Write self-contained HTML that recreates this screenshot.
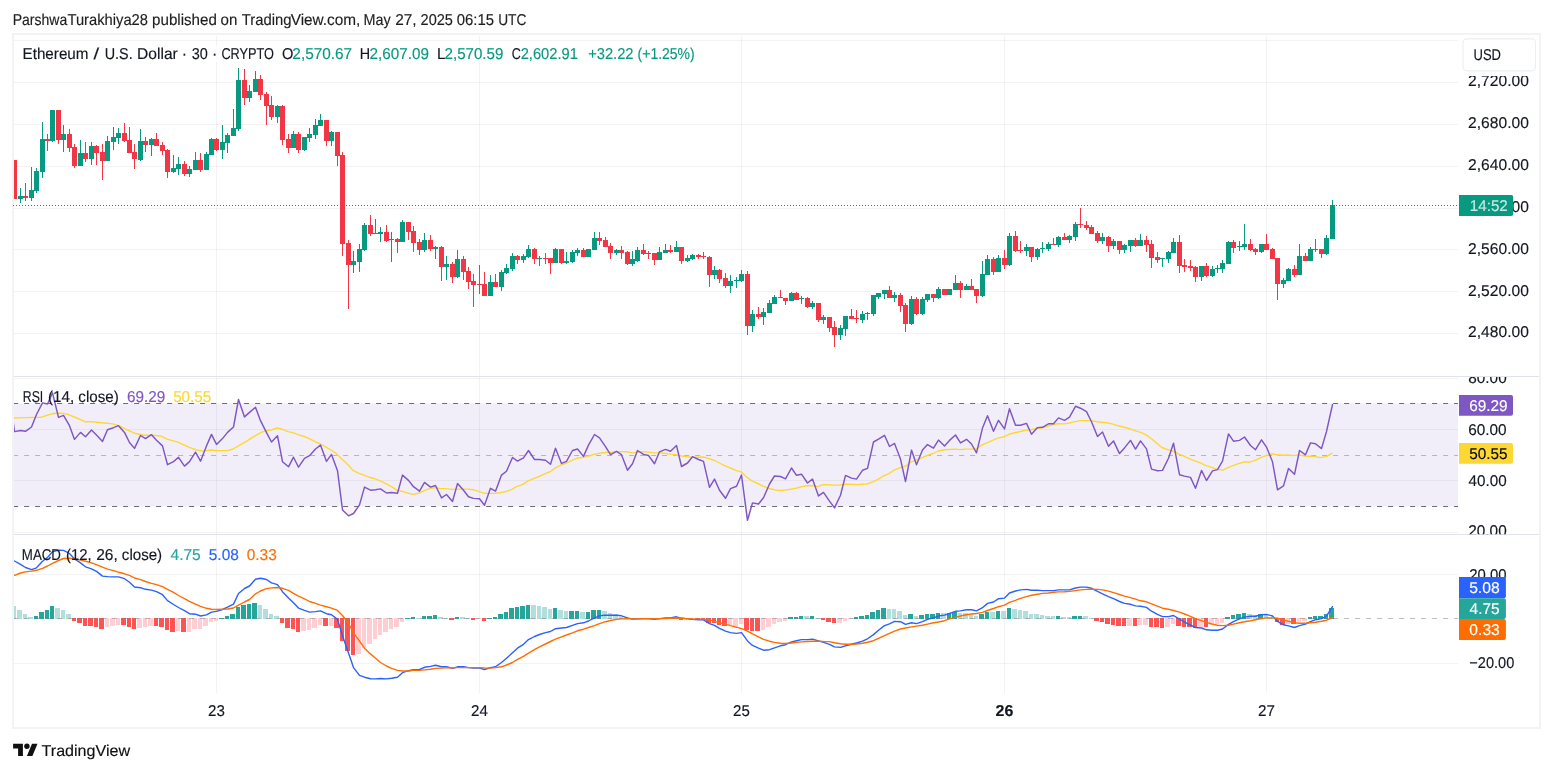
<!DOCTYPE html><html><head><meta charset="utf-8"><title>ETHUSD</title>
<style>html,body{margin:0;padding:0;background:#fff}svg{display:block;will-change:transform}text{font-family:"Liberation Sans",sans-serif;text-rendering:geometricPrecision}</style></head><body>
<svg width="1553" height="772" viewBox="0 0 1553 772">
<rect width="1553" height="772" fill="#fff"/>
<text x="12.68" y="24.95" font-size="15.8" fill="#1e1e1e" stroke="#1e1e1e" stroke-width="0.15" textLength="54.62" lengthAdjust="spacingAndGlyphs">Parshwa</text>
<text x="67.47" y="24.95" font-size="15.8" fill="#1e1e1e" stroke="#1e1e1e" stroke-width="0.15" textLength="80.52" lengthAdjust="spacingAndGlyphs">Turakhiya28</text>
<text x="152.04" y="24.95" font-size="15.8" fill="#1e1e1e" stroke="#1e1e1e" stroke-width="0.15" textLength="64.88" lengthAdjust="spacingAndGlyphs">published</text>
<text x="220.52" y="24.95" font-size="15.8" fill="#1e1e1e" stroke="#1e1e1e" stroke-width="0.15" textLength="16.80" lengthAdjust="spacingAndGlyphs">on</text>
<text x="241.77" y="24.95" font-size="15.8" fill="#1e1e1e" stroke="#1e1e1e" stroke-width="0.15" textLength="49.76" lengthAdjust="spacingAndGlyphs">Trading</text>
<text x="290.69" y="24.95" font-size="15.8" fill="#1e1e1e" stroke="#1e1e1e" stroke-width="0.15" textLength="69.66" lengthAdjust="spacingAndGlyphs">View.com,</text>
<text x="363.54" y="24.95" font-size="15.8" fill="#1e1e1e" stroke="#1e1e1e" stroke-width="0.15" textLength="27.21" lengthAdjust="spacingAndGlyphs">May</text>
<text x="395.23" y="24.95" font-size="15.8" fill="#1e1e1e" stroke="#1e1e1e" stroke-width="0.15" textLength="21.34" lengthAdjust="spacingAndGlyphs">27,</text>
<text x="420.57" y="24.95" font-size="15.8" fill="#1e1e1e" stroke="#1e1e1e" stroke-width="0.15" textLength="32.29" lengthAdjust="spacingAndGlyphs">2025</text>
<text x="456.69" y="24.95" font-size="15.8" fill="#1e1e1e" stroke="#1e1e1e" stroke-width="0.15" textLength="37.29" lengthAdjust="spacingAndGlyphs">06:15</text>
<text x="498.17" y="24.95" font-size="15.8" fill="#1e1e1e" stroke="#1e1e1e" stroke-width="0.15" textLength="28.22" lengthAdjust="spacingAndGlyphs">UTC</text>
<rect x="13" y="34" width="1527" height="694" fill="none" stroke="#f3f3f4" stroke-width="2" shape-rendering="crispEdges"/>
<g stroke="#20302a" stroke-opacity="0.06" stroke-width="1" shape-rendering="crispEdges">
<line x1="14" x2="1458" y1="40.5" y2="40.5"/>
<line x1="14" x2="1458" y1="82.5" y2="82.5"/>
<line x1="14" x2="1458" y1="124.5" y2="124.5"/>
<line x1="14" x2="1458" y1="166.5" y2="166.5"/>
<line x1="14" x2="1458" y1="208.5" y2="208.5"/>
<line x1="14" x2="1458" y1="249.5" y2="249.5"/>
<line x1="14" x2="1458" y1="291.5" y2="291.5"/>
<line x1="14" x2="1458" y1="333.5" y2="333.5"/>
<line x1="216.5" x2="216.5" y1="35.5" y2="692.5"/>
<line x1="479.4" x2="479.4" y1="35.5" y2="692.5"/>
<line x1="741.5" x2="741.5" y1="35.5" y2="692.5"/>
<line x1="1004.5" x2="1004.5" y1="35.5" y2="692.5"/>
<line x1="1266.4" x2="1266.4" y1="35.5" y2="692.5"/>
<line x1="14" x2="1458" y1="378.5" y2="378.5"/>
<line x1="14" x2="1458" y1="429.5" y2="429.5"/>
<line x1="14" x2="1458" y1="480.5" y2="480.5"/>
<line x1="14" x2="1458" y1="532.5" y2="532.5"/>
<line x1="14" x2="1458" y1="574.5" y2="574.5"/>
<line x1="14" x2="1458" y1="663.5" y2="663.5"/>
</g>
<g stroke="#e0e3eb" stroke-width="1" shape-rendering="crispEdges">
<line x1="14" x2="1539" y1="376.5" y2="376.5"/><line x1="14" x2="1539" y1="534.2" y2="534.2"/></g>
<rect x="14" y="403.4" width="1444" height="103" fill="#7e57c2" fill-opacity="0.1"/>
<g stroke-width="1" stroke-dasharray="5 6" stroke-dashoffset="0.9" fill="none">
<line x1="14" x2="1458" y1="403.5" y2="403.5" stroke="#6a6d78"/>
<line x1="14" x2="1458" y1="506.5" y2="506.5" stroke="#6a6d78"/>
<line x1="14" x2="1458" y1="455.5" y2="455.5" stroke="#787b86" stroke-opacity="0.5"/>
</g>
<line x1="13" x2="1458" y1="205.5" y2="205.5" stroke="#089981" stroke-width="1" stroke-dasharray="1 2" shape-rendering="crispEdges"/>
<defs><clipPath id="cp"><rect x="14" y="35" width="1444" height="693"/></clipPath></defs>
<g clip-path="url(#cp)">
<g shape-rendering="crispEdges">
<rect x="14" y="160" width="1" height="39" fill="#f23645"/>
<rect x="12" y="160" width="5" height="39" fill="#f23645"/>
<rect x="20" y="188" width="1" height="15" fill="#089981"/>
<rect x="18" y="196" width="5" height="3" fill="#089981"/>
<rect x="25" y="183" width="1" height="18" fill="#f23645"/>
<rect x="23" y="196" width="5" height="2" fill="#f23645"/>
<rect x="31" y="167" width="1" height="34" fill="#089981"/>
<rect x="29" y="190" width="5" height="8" fill="#089981"/>
<rect x="36" y="168" width="1" height="25" fill="#089981"/>
<rect x="34" y="171" width="5" height="20" fill="#089981"/>
<rect x="42" y="122" width="1" height="56" fill="#089981"/>
<rect x="40" y="139" width="5" height="33" fill="#089981"/>
<rect x="47" y="134" width="1" height="17" fill="#f23645"/>
<rect x="45" y="139" width="5" height="2" fill="#f23645"/>
<rect x="52" y="110" width="1" height="32" fill="#089981"/>
<rect x="50" y="110" width="5" height="31" fill="#089981"/>
<rect x="58" y="110" width="1" height="34" fill="#f23645"/>
<rect x="56" y="110" width="5" height="30" fill="#f23645"/>
<rect x="63" y="125" width="1" height="27" fill="#089981"/>
<rect x="61" y="134" width="5" height="6" fill="#089981"/>
<rect x="69" y="129" width="1" height="23" fill="#f23645"/>
<rect x="67" y="134" width="5" height="14" fill="#f23645"/>
<rect x="74" y="144" width="1" height="24" fill="#f23645"/>
<rect x="72" y="147" width="5" height="19" fill="#f23645"/>
<rect x="80" y="140" width="1" height="26" fill="#089981"/>
<rect x="78" y="153" width="5" height="13" fill="#089981"/>
<rect x="85" y="142" width="1" height="20" fill="#f23645"/>
<rect x="83" y="153" width="5" height="6" fill="#f23645"/>
<rect x="91" y="142" width="1" height="23" fill="#089981"/>
<rect x="89" y="146" width="5" height="13" fill="#089981"/>
<rect x="96" y="145" width="1" height="20" fill="#f23645"/>
<rect x="94" y="146" width="5" height="7" fill="#f23645"/>
<rect x="102" y="144" width="1" height="36" fill="#f23645"/>
<rect x="100" y="152" width="5" height="9" fill="#f23645"/>
<rect x="107" y="136" width="1" height="25" fill="#089981"/>
<rect x="105" y="141" width="5" height="20" fill="#089981"/>
<rect x="113" y="127" width="1" height="23" fill="#089981"/>
<rect x="111" y="137" width="5" height="5" fill="#089981"/>
<rect x="118" y="128" width="1" height="16" fill="#089981"/>
<rect x="116" y="133" width="5" height="5" fill="#089981"/>
<rect x="124" y="123" width="1" height="19" fill="#f23645"/>
<rect x="122" y="133" width="5" height="8" fill="#f23645"/>
<rect x="129" y="127" width="1" height="26" fill="#f23645"/>
<rect x="127" y="140" width="5" height="13" fill="#f23645"/>
<rect x="134" y="144" width="1" height="25" fill="#f23645"/>
<rect x="132" y="152" width="5" height="7" fill="#f23645"/>
<rect x="140" y="129" width="1" height="32" fill="#089981"/>
<rect x="138" y="141" width="5" height="19" fill="#089981"/>
<rect x="145" y="137" width="1" height="15" fill="#f23645"/>
<rect x="143" y="141" width="5" height="4" fill="#f23645"/>
<rect x="151" y="138" width="1" height="18" fill="#089981"/>
<rect x="149" y="139" width="5" height="6" fill="#089981"/>
<rect x="156" y="133" width="1" height="13" fill="#f23645"/>
<rect x="154" y="139" width="5" height="7" fill="#f23645"/>
<rect x="162" y="142" width="1" height="13" fill="#f23645"/>
<rect x="160" y="145" width="5" height="6" fill="#f23645"/>
<rect x="167" y="149" width="1" height="29" fill="#f23645"/>
<rect x="165" y="150" width="5" height="22" fill="#f23645"/>
<rect x="173" y="155" width="1" height="18" fill="#089981"/>
<rect x="171" y="168" width="5" height="4" fill="#089981"/>
<rect x="178" y="157" width="1" height="18" fill="#089981"/>
<rect x="176" y="164" width="5" height="5" fill="#089981"/>
<rect x="184" y="161" width="1" height="15" fill="#f23645"/>
<rect x="182" y="164" width="5" height="10" fill="#f23645"/>
<rect x="189" y="166" width="1" height="11" fill="#089981"/>
<rect x="187" y="169" width="5" height="5" fill="#089981"/>
<rect x="195" y="152" width="1" height="18" fill="#089981"/>
<rect x="193" y="160" width="5" height="10" fill="#089981"/>
<rect x="200" y="153" width="1" height="19" fill="#f23645"/>
<rect x="198" y="160" width="5" height="10" fill="#f23645"/>
<rect x="206" y="152" width="1" height="18" fill="#089981"/>
<rect x="204" y="154" width="5" height="16" fill="#089981"/>
<rect x="211" y="138" width="1" height="17" fill="#089981"/>
<rect x="209" y="139" width="5" height="16" fill="#089981"/>
<rect x="216" y="138" width="1" height="13" fill="#f23645"/>
<rect x="214" y="139" width="5" height="11" fill="#f23645"/>
<rect x="222" y="125" width="1" height="34" fill="#089981"/>
<rect x="220" y="142" width="5" height="8" fill="#089981"/>
<rect x="227" y="133" width="1" height="20" fill="#089981"/>
<rect x="225" y="135" width="5" height="8" fill="#089981"/>
<rect x="233" y="109" width="1" height="27" fill="#089981"/>
<rect x="231" y="128" width="5" height="8" fill="#089981"/>
<rect x="238" y="68" width="1" height="63" fill="#089981"/>
<rect x="236" y="80" width="5" height="49" fill="#089981"/>
<rect x="244" y="69" width="1" height="36" fill="#f23645"/>
<rect x="242" y="80" width="5" height="18" fill="#f23645"/>
<rect x="249" y="85" width="1" height="17" fill="#089981"/>
<rect x="247" y="91" width="5" height="7" fill="#089981"/>
<rect x="255" y="71" width="1" height="21" fill="#089981"/>
<rect x="253" y="79" width="5" height="13" fill="#089981"/>
<rect x="260" y="75" width="1" height="25" fill="#f23645"/>
<rect x="258" y="79" width="5" height="16" fill="#f23645"/>
<rect x="266" y="92" width="1" height="33" fill="#f23645"/>
<rect x="264" y="94" width="5" height="12" fill="#f23645"/>
<rect x="271" y="96" width="1" height="24" fill="#f23645"/>
<rect x="269" y="105" width="5" height="12" fill="#f23645"/>
<rect x="277" y="105" width="1" height="18" fill="#089981"/>
<rect x="275" y="106" width="5" height="11" fill="#089981"/>
<rect x="282" y="105" width="1" height="40" fill="#f23645"/>
<rect x="280" y="106" width="5" height="34" fill="#f23645"/>
<rect x="288" y="134" width="1" height="19" fill="#f23645"/>
<rect x="286" y="139" width="5" height="9" fill="#f23645"/>
<rect x="293" y="131" width="1" height="17" fill="#089981"/>
<rect x="291" y="134" width="5" height="14" fill="#089981"/>
<rect x="298" y="132" width="1" height="21" fill="#f23645"/>
<rect x="296" y="134" width="5" height="16" fill="#f23645"/>
<rect x="304" y="137" width="1" height="14" fill="#089981"/>
<rect x="302" y="137" width="5" height="13" fill="#089981"/>
<rect x="309" y="128" width="1" height="14" fill="#089981"/>
<rect x="307" y="134" width="5" height="4" fill="#089981"/>
<rect x="315" y="119" width="1" height="20" fill="#089981"/>
<rect x="313" y="125" width="5" height="10" fill="#089981"/>
<rect x="320" y="114" width="1" height="12" fill="#089981"/>
<rect x="318" y="120" width="5" height="6" fill="#089981"/>
<rect x="326" y="120" width="1" height="26" fill="#f23645"/>
<rect x="324" y="120" width="5" height="21" fill="#f23645"/>
<rect x="331" y="131" width="1" height="15" fill="#089981"/>
<rect x="329" y="132" width="5" height="9" fill="#089981"/>
<rect x="337" y="132" width="1" height="34" fill="#f23645"/>
<rect x="335" y="132" width="5" height="24" fill="#f23645"/>
<rect x="342" y="152" width="1" height="104" fill="#f23645"/>
<rect x="340" y="155" width="5" height="89" fill="#f23645"/>
<rect x="348" y="240" width="1" height="69" fill="#f23645"/>
<rect x="346" y="243" width="5" height="22" fill="#f23645"/>
<rect x="353" y="251" width="1" height="22" fill="#089981"/>
<rect x="351" y="261" width="5" height="4" fill="#089981"/>
<rect x="359" y="244" width="1" height="28" fill="#089981"/>
<rect x="357" y="249" width="5" height="13" fill="#089981"/>
<rect x="364" y="223" width="1" height="28" fill="#089981"/>
<rect x="362" y="225" width="5" height="25" fill="#089981"/>
<rect x="370" y="215" width="1" height="21" fill="#f23645"/>
<rect x="368" y="225" width="5" height="9" fill="#f23645"/>
<rect x="375" y="219" width="1" height="15" fill="#089981"/>
<rect x="373" y="233" width="5" height="1" fill="#089981"/>
<rect x="380" y="227" width="1" height="15" fill="#089981"/>
<rect x="378" y="232" width="5" height="2" fill="#089981"/>
<rect x="386" y="225" width="1" height="17" fill="#f23645"/>
<rect x="384" y="232" width="5" height="9" fill="#f23645"/>
<rect x="391" y="232" width="1" height="30" fill="#089981"/>
<rect x="389" y="239" width="5" height="1" fill="#089981"/>
<rect x="397" y="238" width="1" height="15" fill="#f23645"/>
<rect x="395" y="239" width="5" height="3" fill="#f23645"/>
<rect x="402" y="220" width="1" height="22" fill="#089981"/>
<rect x="400" y="222" width="5" height="20" fill="#089981"/>
<rect x="408" y="222" width="1" height="18" fill="#f23645"/>
<rect x="406" y="222" width="5" height="10" fill="#f23645"/>
<rect x="413" y="226" width="1" height="26" fill="#f23645"/>
<rect x="411" y="231" width="5" height="12" fill="#f23645"/>
<rect x="419" y="239" width="1" height="16" fill="#f23645"/>
<rect x="417" y="242" width="5" height="8" fill="#f23645"/>
<rect x="424" y="233" width="1" height="19" fill="#089981"/>
<rect x="422" y="240" width="5" height="10" fill="#089981"/>
<rect x="430" y="235" width="1" height="16" fill="#f23645"/>
<rect x="428" y="240" width="5" height="9" fill="#f23645"/>
<rect x="435" y="246" width="1" height="13" fill="#089981"/>
<rect x="433" y="247" width="5" height="2" fill="#089981"/>
<rect x="441" y="246" width="1" height="35" fill="#f23645"/>
<rect x="439" y="247" width="5" height="20" fill="#f23645"/>
<rect x="446" y="256" width="1" height="24" fill="#089981"/>
<rect x="444" y="264" width="5" height="3" fill="#089981"/>
<rect x="452" y="262" width="1" height="21" fill="#f23645"/>
<rect x="450" y="264" width="5" height="13" fill="#f23645"/>
<rect x="457" y="250" width="1" height="28" fill="#089981"/>
<rect x="455" y="259" width="5" height="18" fill="#089981"/>
<rect x="463" y="256" width="1" height="24" fill="#f23645"/>
<rect x="461" y="259" width="5" height="13" fill="#f23645"/>
<rect x="468" y="267" width="1" height="22" fill="#f23645"/>
<rect x="466" y="271" width="5" height="11" fill="#f23645"/>
<rect x="473" y="274" width="1" height="33" fill="#f23645"/>
<rect x="471" y="281" width="5" height="4" fill="#f23645"/>
<rect x="479" y="265" width="1" height="29" fill="#f23645"/>
<rect x="477" y="284" width="5" height="1" fill="#f23645"/>
<rect x="484" y="272" width="1" height="24" fill="#f23645"/>
<rect x="482" y="284" width="5" height="12" fill="#f23645"/>
<rect x="490" y="275" width="1" height="21" fill="#089981"/>
<rect x="488" y="282" width="5" height="14" fill="#089981"/>
<rect x="495" y="274" width="1" height="13" fill="#f23645"/>
<rect x="493" y="282" width="5" height="5" fill="#f23645"/>
<rect x="501" y="270" width="1" height="21" fill="#089981"/>
<rect x="499" y="272" width="5" height="15" fill="#089981"/>
<rect x="506" y="264" width="1" height="10" fill="#089981"/>
<rect x="504" y="268" width="5" height="5" fill="#089981"/>
<rect x="512" y="253" width="1" height="18" fill="#089981"/>
<rect x="510" y="256" width="5" height="13" fill="#089981"/>
<rect x="517" y="255" width="1" height="9" fill="#f23645"/>
<rect x="515" y="256" width="5" height="4" fill="#f23645"/>
<rect x="523" y="254" width="1" height="9" fill="#089981"/>
<rect x="521" y="256" width="5" height="4" fill="#089981"/>
<rect x="528" y="245" width="1" height="13" fill="#089981"/>
<rect x="526" y="249" width="5" height="8" fill="#089981"/>
<rect x="534" y="248" width="1" height="16" fill="#f23645"/>
<rect x="532" y="249" width="5" height="10" fill="#f23645"/>
<rect x="539" y="256" width="1" height="10" fill="#089981"/>
<rect x="537" y="258" width="5" height="1" fill="#089981"/>
<rect x="545" y="253" width="1" height="11" fill="#f23645"/>
<rect x="543" y="258" width="5" height="1" fill="#f23645"/>
<rect x="550" y="258" width="1" height="16" fill="#f23645"/>
<rect x="548" y="258" width="5" height="5" fill="#f23645"/>
<rect x="555" y="248" width="1" height="15" fill="#089981"/>
<rect x="553" y="249" width="5" height="14" fill="#089981"/>
<rect x="561" y="249" width="1" height="15" fill="#f23645"/>
<rect x="559" y="249" width="5" height="14" fill="#f23645"/>
<rect x="566" y="252" width="1" height="12" fill="#089981"/>
<rect x="564" y="261" width="5" height="2" fill="#089981"/>
<rect x="572" y="250" width="1" height="13" fill="#089981"/>
<rect x="570" y="252" width="5" height="10" fill="#089981"/>
<rect x="577" y="248" width="1" height="8" fill="#089981"/>
<rect x="575" y="250" width="5" height="3" fill="#089981"/>
<rect x="583" y="248" width="1" height="9" fill="#f23645"/>
<rect x="581" y="250" width="5" height="7" fill="#f23645"/>
<rect x="588" y="249" width="1" height="8" fill="#089981"/>
<rect x="586" y="249" width="5" height="8" fill="#089981"/>
<rect x="594" y="232" width="1" height="18" fill="#089981"/>
<rect x="592" y="238" width="5" height="12" fill="#089981"/>
<rect x="599" y="232" width="1" height="13" fill="#f23645"/>
<rect x="597" y="238" width="5" height="3" fill="#f23645"/>
<rect x="605" y="237" width="1" height="10" fill="#f23645"/>
<rect x="603" y="240" width="5" height="7" fill="#f23645"/>
<rect x="610" y="243" width="1" height="16" fill="#f23645"/>
<rect x="608" y="246" width="5" height="7" fill="#f23645"/>
<rect x="616" y="249" width="1" height="6" fill="#089981"/>
<rect x="614" y="250" width="5" height="3" fill="#089981"/>
<rect x="621" y="246" width="1" height="13" fill="#f23645"/>
<rect x="619" y="250" width="5" height="3" fill="#f23645"/>
<rect x="627" y="251" width="1" height="14" fill="#f23645"/>
<rect x="625" y="252" width="5" height="12" fill="#f23645"/>
<rect x="632" y="251" width="1" height="15" fill="#089981"/>
<rect x="630" y="259" width="5" height="5" fill="#089981"/>
<rect x="637" y="247" width="1" height="15" fill="#089981"/>
<rect x="635" y="250" width="5" height="11" fill="#089981"/>
<rect x="643" y="244" width="1" height="11" fill="#f23645"/>
<rect x="641" y="250" width="5" height="4" fill="#f23645"/>
<rect x="648" y="251" width="1" height="8" fill="#f23645"/>
<rect x="646" y="253" width="5" height="1" fill="#f23645"/>
<rect x="654" y="253" width="1" height="12" fill="#f23645"/>
<rect x="652" y="253" width="5" height="7" fill="#f23645"/>
<rect x="659" y="247" width="1" height="13" fill="#089981"/>
<rect x="657" y="252" width="5" height="8" fill="#089981"/>
<rect x="665" y="244" width="1" height="9" fill="#089981"/>
<rect x="663" y="250" width="5" height="3" fill="#089981"/>
<rect x="670" y="245" width="1" height="8" fill="#f23645"/>
<rect x="668" y="250" width="5" height="2" fill="#f23645"/>
<rect x="676" y="241" width="1" height="11" fill="#089981"/>
<rect x="674" y="247" width="5" height="5" fill="#089981"/>
<rect x="681" y="247" width="1" height="17" fill="#f23645"/>
<rect x="679" y="247" width="5" height="14" fill="#f23645"/>
<rect x="687" y="255" width="1" height="7" fill="#089981"/>
<rect x="685" y="258" width="5" height="3" fill="#089981"/>
<rect x="692" y="254" width="1" height="6" fill="#089981"/>
<rect x="690" y="255" width="5" height="4" fill="#089981"/>
<rect x="698" y="254" width="1" height="5" fill="#f23645"/>
<rect x="696" y="255" width="5" height="2" fill="#f23645"/>
<rect x="703" y="252" width="1" height="7" fill="#f23645"/>
<rect x="701" y="256" width="5" height="1" fill="#f23645"/>
<rect x="709" y="256" width="1" height="31" fill="#f23645"/>
<rect x="707" y="257" width="5" height="18" fill="#f23645"/>
<rect x="714" y="266" width="1" height="13" fill="#089981"/>
<rect x="712" y="270" width="5" height="5" fill="#089981"/>
<rect x="719" y="269" width="1" height="14" fill="#f23645"/>
<rect x="717" y="270" width="5" height="9" fill="#f23645"/>
<rect x="725" y="273" width="1" height="15" fill="#f23645"/>
<rect x="723" y="278" width="5" height="8" fill="#f23645"/>
<rect x="730" y="275" width="1" height="18" fill="#089981"/>
<rect x="728" y="281" width="5" height="5" fill="#089981"/>
<rect x="736" y="277" width="1" height="11" fill="#089981"/>
<rect x="734" y="280" width="5" height="1" fill="#089981"/>
<rect x="741" y="270" width="1" height="12" fill="#089981"/>
<rect x="739" y="274" width="5" height="7" fill="#089981"/>
<rect x="747" y="271" width="1" height="64" fill="#f23645"/>
<rect x="745" y="274" width="5" height="52" fill="#f23645"/>
<rect x="752" y="310" width="1" height="22" fill="#089981"/>
<rect x="750" y="314" width="5" height="12" fill="#089981"/>
<rect x="758" y="307" width="1" height="12" fill="#f23645"/>
<rect x="756" y="314" width="5" height="3" fill="#f23645"/>
<rect x="763" y="308" width="1" height="17" fill="#089981"/>
<rect x="761" y="312" width="5" height="5" fill="#089981"/>
<rect x="769" y="300" width="1" height="13" fill="#089981"/>
<rect x="767" y="303" width="5" height="10" fill="#089981"/>
<rect x="774" y="295" width="1" height="9" fill="#089981"/>
<rect x="772" y="297" width="5" height="7" fill="#089981"/>
<rect x="780" y="290" width="1" height="8" fill="#f23645"/>
<rect x="778" y="297" width="5" height="1" fill="#f23645"/>
<rect x="785" y="298" width="1" height="7" fill="#f23645"/>
<rect x="783" y="298" width="5" height="3" fill="#f23645"/>
<rect x="791" y="292" width="1" height="9" fill="#089981"/>
<rect x="789" y="293" width="5" height="8" fill="#089981"/>
<rect x="796" y="292" width="1" height="8" fill="#f23645"/>
<rect x="794" y="293" width="5" height="7" fill="#f23645"/>
<rect x="801" y="296" width="1" height="8" fill="#089981"/>
<rect x="799" y="298" width="5" height="1" fill="#089981"/>
<rect x="807" y="297" width="1" height="11" fill="#f23645"/>
<rect x="805" y="298" width="5" height="9" fill="#f23645"/>
<rect x="812" y="301" width="1" height="8" fill="#089981"/>
<rect x="810" y="303" width="5" height="4" fill="#089981"/>
<rect x="818" y="303" width="1" height="19" fill="#f23645"/>
<rect x="816" y="303" width="5" height="17" fill="#f23645"/>
<rect x="823" y="315" width="1" height="9" fill="#089981"/>
<rect x="821" y="317" width="5" height="3" fill="#089981"/>
<rect x="829" y="317" width="1" height="15" fill="#f23645"/>
<rect x="827" y="317" width="5" height="11" fill="#f23645"/>
<rect x="834" y="321" width="1" height="26" fill="#f23645"/>
<rect x="832" y="327" width="5" height="8" fill="#f23645"/>
<rect x="840" y="325" width="1" height="15" fill="#089981"/>
<rect x="838" y="328" width="5" height="7" fill="#089981"/>
<rect x="845" y="316" width="1" height="20" fill="#089981"/>
<rect x="843" y="316" width="5" height="13" fill="#089981"/>
<rect x="851" y="309" width="1" height="10" fill="#f23645"/>
<rect x="849" y="316" width="5" height="3" fill="#f23645"/>
<rect x="856" y="310" width="1" height="13" fill="#f23645"/>
<rect x="854" y="318" width="5" height="1" fill="#f23645"/>
<rect x="862" y="311" width="1" height="12" fill="#089981"/>
<rect x="860" y="314" width="5" height="6" fill="#089981"/>
<rect x="867" y="312" width="1" height="8" fill="#089981"/>
<rect x="865" y="313" width="5" height="1" fill="#089981"/>
<rect x="873" y="295" width="1" height="21" fill="#089981"/>
<rect x="871" y="295" width="5" height="19" fill="#089981"/>
<rect x="878" y="293" width="1" height="6" fill="#089981"/>
<rect x="876" y="293" width="5" height="4" fill="#089981"/>
<rect x="884" y="290" width="1" height="9" fill="#089981"/>
<rect x="882" y="290" width="5" height="4" fill="#089981"/>
<rect x="889" y="286" width="1" height="12" fill="#f23645"/>
<rect x="887" y="290" width="5" height="8" fill="#f23645"/>
<rect x="894" y="292" width="1" height="10" fill="#089981"/>
<rect x="892" y="295" width="5" height="3" fill="#089981"/>
<rect x="900" y="293" width="1" height="19" fill="#f23645"/>
<rect x="898" y="295" width="5" height="11" fill="#f23645"/>
<rect x="905" y="303" width="1" height="29" fill="#f23645"/>
<rect x="903" y="305" width="5" height="19" fill="#f23645"/>
<rect x="911" y="296" width="1" height="29" fill="#089981"/>
<rect x="909" y="299" width="5" height="25" fill="#089981"/>
<rect x="916" y="297" width="1" height="18" fill="#f23645"/>
<rect x="914" y="299" width="5" height="15" fill="#f23645"/>
<rect x="922" y="297" width="1" height="18" fill="#089981"/>
<rect x="920" y="299" width="5" height="15" fill="#089981"/>
<rect x="927" y="294" width="1" height="8" fill="#089981"/>
<rect x="925" y="294" width="5" height="6" fill="#089981"/>
<rect x="933" y="294" width="1" height="8" fill="#f23645"/>
<rect x="931" y="294" width="5" height="4" fill="#f23645"/>
<rect x="938" y="287" width="1" height="12" fill="#089981"/>
<rect x="936" y="289" width="5" height="9" fill="#089981"/>
<rect x="944" y="289" width="1" height="6" fill="#f23645"/>
<rect x="942" y="289" width="5" height="6" fill="#f23645"/>
<rect x="949" y="289" width="1" height="6" fill="#089981"/>
<rect x="947" y="289" width="5" height="6" fill="#089981"/>
<rect x="955" y="275" width="1" height="15" fill="#089981"/>
<rect x="953" y="283" width="5" height="7" fill="#089981"/>
<rect x="960" y="281" width="1" height="17" fill="#f23645"/>
<rect x="958" y="283" width="5" height="7" fill="#f23645"/>
<rect x="966" y="284" width="1" height="6" fill="#089981"/>
<rect x="964" y="286" width="5" height="4" fill="#089981"/>
<rect x="971" y="279" width="1" height="11" fill="#f23645"/>
<rect x="969" y="286" width="5" height="4" fill="#f23645"/>
<rect x="976" y="289" width="1" height="14" fill="#f23645"/>
<rect x="974" y="289" width="5" height="7" fill="#f23645"/>
<rect x="982" y="261" width="1" height="36" fill="#089981"/>
<rect x="980" y="274" width="5" height="22" fill="#089981"/>
<rect x="987" y="255" width="1" height="20" fill="#089981"/>
<rect x="985" y="259" width="5" height="16" fill="#089981"/>
<rect x="993" y="257" width="1" height="18" fill="#f23645"/>
<rect x="991" y="259" width="5" height="13" fill="#f23645"/>
<rect x="998" y="255" width="1" height="17" fill="#089981"/>
<rect x="996" y="258" width="5" height="14" fill="#089981"/>
<rect x="1004" y="250" width="1" height="19" fill="#f23645"/>
<rect x="1002" y="258" width="5" height="7" fill="#f23645"/>
<rect x="1009" y="233" width="1" height="33" fill="#089981"/>
<rect x="1007" y="236" width="5" height="29" fill="#089981"/>
<rect x="1015" y="231" width="1" height="21" fill="#f23645"/>
<rect x="1013" y="236" width="5" height="15" fill="#f23645"/>
<rect x="1020" y="241" width="1" height="12" fill="#f23645"/>
<rect x="1018" y="250" width="5" height="1" fill="#f23645"/>
<rect x="1026" y="244" width="1" height="12" fill="#089981"/>
<rect x="1024" y="247" width="5" height="4" fill="#089981"/>
<rect x="1031" y="247" width="1" height="15" fill="#f23645"/>
<rect x="1029" y="247" width="5" height="10" fill="#f23645"/>
<rect x="1037" y="248" width="1" height="12" fill="#089981"/>
<rect x="1035" y="249" width="5" height="8" fill="#089981"/>
<rect x="1042" y="242" width="1" height="11" fill="#089981"/>
<rect x="1040" y="248" width="5" height="1" fill="#089981"/>
<rect x="1048" y="242" width="1" height="9" fill="#089981"/>
<rect x="1046" y="244" width="5" height="5" fill="#089981"/>
<rect x="1053" y="238" width="1" height="7" fill="#f23645"/>
<rect x="1051" y="244" width="5" height="1" fill="#f23645"/>
<rect x="1058" y="236" width="1" height="11" fill="#089981"/>
<rect x="1056" y="237" width="5" height="8" fill="#089981"/>
<rect x="1064" y="233" width="1" height="7" fill="#f23645"/>
<rect x="1062" y="237" width="5" height="3" fill="#f23645"/>
<rect x="1069" y="235" width="1" height="8" fill="#089981"/>
<rect x="1067" y="236" width="5" height="4" fill="#089981"/>
<rect x="1075" y="222" width="1" height="19" fill="#089981"/>
<rect x="1073" y="224" width="5" height="13" fill="#089981"/>
<rect x="1080" y="208" width="1" height="20" fill="#f23645"/>
<rect x="1078" y="224" width="5" height="1" fill="#f23645"/>
<rect x="1086" y="221" width="1" height="9" fill="#f23645"/>
<rect x="1084" y="225" width="5" height="3" fill="#f23645"/>
<rect x="1091" y="225" width="1" height="9" fill="#f23645"/>
<rect x="1089" y="227" width="5" height="7" fill="#f23645"/>
<rect x="1097" y="231" width="1" height="12" fill="#f23645"/>
<rect x="1095" y="233" width="5" height="8" fill="#f23645"/>
<rect x="1102" y="233" width="1" height="11" fill="#089981"/>
<rect x="1100" y="237" width="5" height="4" fill="#089981"/>
<rect x="1108" y="236" width="1" height="16" fill="#f23645"/>
<rect x="1106" y="237" width="5" height="9" fill="#f23645"/>
<rect x="1113" y="239" width="1" height="10" fill="#089981"/>
<rect x="1111" y="241" width="5" height="5" fill="#089981"/>
<rect x="1119" y="241" width="1" height="13" fill="#f23645"/>
<rect x="1117" y="241" width="5" height="9" fill="#f23645"/>
<rect x="1124" y="244" width="1" height="9" fill="#089981"/>
<rect x="1122" y="245" width="5" height="5" fill="#089981"/>
<rect x="1130" y="240" width="1" height="12" fill="#089981"/>
<rect x="1128" y="240" width="5" height="6" fill="#089981"/>
<rect x="1135" y="238" width="1" height="9" fill="#f23645"/>
<rect x="1133" y="240" width="5" height="6" fill="#f23645"/>
<rect x="1140" y="234" width="1" height="12" fill="#089981"/>
<rect x="1138" y="240" width="5" height="6" fill="#089981"/>
<rect x="1146" y="236" width="1" height="16" fill="#f23645"/>
<rect x="1144" y="240" width="5" height="5" fill="#f23645"/>
<rect x="1151" y="240" width="1" height="28" fill="#f23645"/>
<rect x="1149" y="244" width="5" height="14" fill="#f23645"/>
<rect x="1157" y="252" width="1" height="11" fill="#f23645"/>
<rect x="1155" y="257" width="5" height="3" fill="#f23645"/>
<rect x="1162" y="258" width="1" height="9" fill="#089981"/>
<rect x="1160" y="258" width="5" height="1" fill="#089981"/>
<rect x="1168" y="251" width="1" height="12" fill="#089981"/>
<rect x="1166" y="252" width="5" height="7" fill="#089981"/>
<rect x="1173" y="238" width="1" height="15" fill="#089981"/>
<rect x="1171" y="242" width="5" height="11" fill="#089981"/>
<rect x="1179" y="235" width="1" height="38" fill="#f23645"/>
<rect x="1177" y="242" width="5" height="24" fill="#f23645"/>
<rect x="1184" y="259" width="1" height="13" fill="#f23645"/>
<rect x="1182" y="265" width="5" height="2" fill="#f23645"/>
<rect x="1190" y="260" width="1" height="11" fill="#f23645"/>
<rect x="1188" y="266" width="5" height="2" fill="#f23645"/>
<rect x="1195" y="266" width="1" height="16" fill="#f23645"/>
<rect x="1193" y="267" width="5" height="10" fill="#f23645"/>
<rect x="1201" y="266" width="1" height="15" fill="#089981"/>
<rect x="1199" y="266" width="5" height="11" fill="#089981"/>
<rect x="1206" y="263" width="1" height="14" fill="#f23645"/>
<rect x="1204" y="266" width="5" height="10" fill="#f23645"/>
<rect x="1212" y="266" width="1" height="11" fill="#089981"/>
<rect x="1210" y="269" width="5" height="7" fill="#089981"/>
<rect x="1217" y="265" width="1" height="8" fill="#089981"/>
<rect x="1215" y="268" width="5" height="1" fill="#089981"/>
<rect x="1222" y="260" width="1" height="13" fill="#089981"/>
<rect x="1220" y="263" width="5" height="6" fill="#089981"/>
<rect x="1228" y="241" width="1" height="23" fill="#089981"/>
<rect x="1226" y="242" width="5" height="22" fill="#089981"/>
<rect x="1233" y="240" width="1" height="13" fill="#f23645"/>
<rect x="1231" y="242" width="5" height="6" fill="#f23645"/>
<rect x="1239" y="241" width="1" height="10" fill="#089981"/>
<rect x="1237" y="246" width="5" height="1" fill="#089981"/>
<rect x="1244" y="224" width="1" height="26" fill="#089981"/>
<rect x="1242" y="244" width="5" height="3" fill="#089981"/>
<rect x="1250" y="239" width="1" height="12" fill="#f23645"/>
<rect x="1248" y="244" width="5" height="6" fill="#f23645"/>
<rect x="1255" y="248" width="1" height="7" fill="#f23645"/>
<rect x="1253" y="249" width="5" height="3" fill="#f23645"/>
<rect x="1261" y="244" width="1" height="9" fill="#089981"/>
<rect x="1259" y="244" width="5" height="8" fill="#089981"/>
<rect x="1266" y="234" width="1" height="16" fill="#f23645"/>
<rect x="1264" y="244" width="5" height="6" fill="#f23645"/>
<rect x="1272" y="248" width="1" height="11" fill="#f23645"/>
<rect x="1270" y="249" width="5" height="10" fill="#f23645"/>
<rect x="1277" y="258" width="1" height="42" fill="#f23645"/>
<rect x="1275" y="258" width="5" height="26" fill="#f23645"/>
<rect x="1283" y="278" width="1" height="10" fill="#089981"/>
<rect x="1281" y="280" width="5" height="4" fill="#089981"/>
<rect x="1288" y="268" width="1" height="13" fill="#089981"/>
<rect x="1286" y="269" width="5" height="12" fill="#089981"/>
<rect x="1294" y="265" width="1" height="12" fill="#f23645"/>
<rect x="1292" y="269" width="5" height="6" fill="#f23645"/>
<rect x="1299" y="244" width="1" height="31" fill="#089981"/>
<rect x="1297" y="256" width="5" height="19" fill="#089981"/>
<rect x="1305" y="253" width="1" height="8" fill="#f23645"/>
<rect x="1303" y="256" width="5" height="5" fill="#f23645"/>
<rect x="1310" y="247" width="1" height="14" fill="#089981"/>
<rect x="1308" y="249" width="5" height="12" fill="#089981"/>
<rect x="1315" y="239" width="1" height="13" fill="#f23645"/>
<rect x="1313" y="249" width="5" height="1" fill="#f23645"/>
<rect x="1321" y="249" width="1" height="9" fill="#f23645"/>
<rect x="1319" y="249" width="5" height="5" fill="#f23645"/>
<rect x="1326" y="235" width="1" height="20" fill="#089981"/>
<rect x="1324" y="238" width="5" height="16" fill="#089981"/>
<rect x="1332" y="200" width="1" height="39" fill="#089981"/>
<rect x="1330" y="205" width="5" height="34" fill="#089981"/>
</g>
<g shape-rendering="crispEdges">
<rect x="12" y="606" width="4" height="13" fill="#b2dfdb"/>
<rect x="17" y="610" width="5" height="9" fill="#b2dfdb"/>
<rect x="23" y="614" width="4" height="5" fill="#b2dfdb"/>
<rect x="28" y="617" width="5" height="2" fill="#b2dfdb"/>
<rect x="34" y="616" width="4" height="3" fill="#26a69a"/>
<rect x="39" y="612" width="5" height="7" fill="#26a69a"/>
<rect x="45" y="610" width="4" height="9" fill="#26a69a"/>
<rect x="50" y="606" width="4" height="13" fill="#26a69a"/>
<rect x="55" y="608" width="5" height="11" fill="#b2dfdb"/>
<rect x="61" y="610" width="4" height="9" fill="#b2dfdb"/>
<rect x="66" y="614" width="5" height="5" fill="#b2dfdb"/>
<rect x="72" y="618" width="4" height="3" fill="#ff5252"/>
<rect x="77" y="618" width="5" height="5" fill="#ff5252"/>
<rect x="83" y="618" width="4" height="8" fill="#ff5252"/>
<rect x="88" y="618" width="5" height="8" fill="#ff5252"/>
<rect x="94" y="618" width="4" height="9" fill="#ff5252"/>
<rect x="99" y="618" width="5" height="11" fill="#ff5252"/>
<rect x="105" y="618" width="4" height="9" fill="#ffcdd2"/>
<rect x="110" y="618" width="5" height="8" fill="#ffcdd2"/>
<rect x="116" y="618" width="4" height="7" fill="#ffcdd2"/>
<rect x="121" y="618" width="5" height="7" fill="#ff5252"/>
<rect x="127" y="618" width="4" height="9" fill="#ff5252"/>
<rect x="132" y="618" width="4" height="11" fill="#ff5252"/>
<rect x="137" y="618" width="5" height="10" fill="#ffcdd2"/>
<rect x="143" y="618" width="4" height="9" fill="#ffcdd2"/>
<rect x="148" y="618" width="5" height="8" fill="#ffcdd2"/>
<rect x="154" y="618" width="4" height="8" fill="#ff5252"/>
<rect x="159" y="618" width="5" height="9" fill="#ff5252"/>
<rect x="165" y="618" width="4" height="12" fill="#ff5252"/>
<rect x="170" y="618" width="5" height="14" fill="#ff5252"/>
<rect x="176" y="618" width="4" height="13" fill="#ffcdd2"/>
<rect x="181" y="618" width="5" height="14" fill="#ff5252"/>
<rect x="187" y="618" width="4" height="14" fill="#ffcdd2"/>
<rect x="192" y="618" width="5" height="11" fill="#ffcdd2"/>
<rect x="198" y="618" width="4" height="11" fill="#ffcdd2"/>
<rect x="203" y="618" width="5" height="8" fill="#ffcdd2"/>
<rect x="209" y="618" width="4" height="4" fill="#ffcdd2"/>
<rect x="214" y="618" width="4" height="3" fill="#ffcdd2"/>
<rect x="219" y="618" width="5" height="1" fill="#26a69a"/>
<rect x="225" y="616" width="4" height="3" fill="#26a69a"/>
<rect x="230" y="614" width="5" height="5" fill="#26a69a"/>
<rect x="236" y="607" width="4" height="12" fill="#26a69a"/>
<rect x="241" y="605" width="5" height="14" fill="#26a69a"/>
<rect x="247" y="604" width="4" height="15" fill="#26a69a"/>
<rect x="252" y="603" width="5" height="16" fill="#26a69a"/>
<rect x="258" y="605" width="4" height="14" fill="#b2dfdb"/>
<rect x="263" y="609" width="5" height="10" fill="#b2dfdb"/>
<rect x="269" y="614" width="4" height="5" fill="#b2dfdb"/>
<rect x="274" y="616" width="5" height="3" fill="#b2dfdb"/>
<rect x="280" y="618" width="4" height="5" fill="#ff5252"/>
<rect x="285" y="618" width="5" height="10" fill="#ff5252"/>
<rect x="291" y="618" width="4" height="11" fill="#ff5252"/>
<rect x="296" y="618" width="4" height="14" fill="#ff5252"/>
<rect x="301" y="618" width="5" height="13" fill="#ffcdd2"/>
<rect x="307" y="618" width="4" height="12" fill="#ffcdd2"/>
<rect x="312" y="618" width="5" height="10" fill="#ffcdd2"/>
<rect x="318" y="618" width="4" height="7" fill="#ffcdd2"/>
<rect x="323" y="618" width="5" height="8" fill="#ff5252"/>
<rect x="329" y="618" width="4" height="8" fill="#ffcdd2"/>
<rect x="334" y="618" width="5" height="10" fill="#ff5252"/>
<rect x="340" y="618" width="4" height="23" fill="#ff5252"/>
<rect x="345" y="618" width="5" height="33" fill="#ff5252"/>
<rect x="351" y="618" width="4" height="37" fill="#ff5252"/>
<rect x="356" y="618" width="5" height="36" fill="#ffcdd2"/>
<rect x="362" y="618" width="4" height="30" fill="#ffcdd2"/>
<rect x="367" y="618" width="5" height="26" fill="#ffcdd2"/>
<rect x="373" y="618" width="4" height="21" fill="#ffcdd2"/>
<rect x="378" y="618" width="4" height="17" fill="#ffcdd2"/>
<rect x="383" y="618" width="5" height="14" fill="#ffcdd2"/>
<rect x="389" y="618" width="4" height="11" fill="#ffcdd2"/>
<rect x="394" y="618" width="5" height="9" fill="#ffcdd2"/>
<rect x="400" y="618" width="4" height="4" fill="#ffcdd2"/>
<rect x="405" y="618" width="5" height="1" fill="#26a69a"/>
<rect x="411" y="617" width="4" height="2" fill="#26a69a"/>
<rect x="416" y="618" width="5" height="1" fill="#b2dfdb"/>
<rect x="422" y="616" width="4" height="3" fill="#26a69a"/>
<rect x="427" y="616" width="5" height="3" fill="#26a69a"/>
<rect x="433" y="615" width="4" height="4" fill="#26a69a"/>
<rect x="438" y="617" width="5" height="2" fill="#b2dfdb"/>
<rect x="444" y="618" width="4" height="1" fill="#b2dfdb"/>
<rect x="449" y="618" width="5" height="2" fill="#ff5252"/>
<rect x="455" y="617" width="4" height="2" fill="#26a69a"/>
<rect x="460" y="617" width="5" height="2" fill="#b2dfdb"/>
<rect x="466" y="618" width="4" height="1" fill="#b2dfdb"/>
<rect x="471" y="618" width="4" height="2" fill="#ff5252"/>
<rect x="476" y="618" width="5" height="1" fill="#ffcdd2"/>
<rect x="482" y="618" width="4" height="3" fill="#ff5252"/>
<rect x="487" y="618" width="5" height="1" fill="#26a69a"/>
<rect x="493" y="617" width="4" height="2" fill="#26a69a"/>
<rect x="498" y="614" width="5" height="5" fill="#26a69a"/>
<rect x="504" y="612" width="4" height="7" fill="#26a69a"/>
<rect x="509" y="608" width="5" height="11" fill="#26a69a"/>
<rect x="515" y="607" width="4" height="12" fill="#26a69a"/>
<rect x="520" y="606" width="5" height="13" fill="#26a69a"/>
<rect x="526" y="605" width="4" height="14" fill="#26a69a"/>
<rect x="531" y="605" width="5" height="14" fill="#b2dfdb"/>
<rect x="537" y="606" width="4" height="13" fill="#b2dfdb"/>
<rect x="542" y="607" width="5" height="12" fill="#b2dfdb"/>
<rect x="548" y="609" width="4" height="10" fill="#b2dfdb"/>
<rect x="553" y="608" width="4" height="11" fill="#26a69a"/>
<rect x="558" y="610" width="5" height="9" fill="#b2dfdb"/>
<rect x="564" y="611" width="4" height="8" fill="#b2dfdb"/>
<rect x="569" y="611" width="5" height="8" fill="#26a69a"/>
<rect x="575" y="611" width="4" height="8" fill="#26a69a"/>
<rect x="580" y="612" width="5" height="7" fill="#b2dfdb"/>
<rect x="586" y="612" width="4" height="7" fill="#26a69a"/>
<rect x="591" y="610" width="5" height="9" fill="#26a69a"/>
<rect x="597" y="610" width="4" height="9" fill="#26a69a"/>
<rect x="602" y="611" width="5" height="8" fill="#b2dfdb"/>
<rect x="608" y="613" width="4" height="6" fill="#b2dfdb"/>
<rect x="613" y="614" width="5" height="5" fill="#b2dfdb"/>
<rect x="619" y="617" width="4" height="2" fill="#b2dfdb"/>
<rect x="624" y="618" width="5" height="1" fill="#b2dfdb"/>
<rect x="630" y="618" width="4" height="1" fill="#ffcdd2"/>
<rect x="635" y="618" width="4" height="1" fill="#ffcdd2"/>
<rect x="640" y="618" width="5" height="1" fill="#b2dfdb"/>
<rect x="646" y="618" width="4" height="1" fill="#ff5252"/>
<rect x="651" y="618" width="5" height="1" fill="#ffcdd2"/>
<rect x="657" y="618" width="4" height="1" fill="#26a69a"/>
<rect x="662" y="618" width="5" height="1" fill="#26a69a"/>
<rect x="668" y="618" width="4" height="1" fill="#b2dfdb"/>
<rect x="673" y="618" width="5" height="1" fill="#26a69a"/>
<rect x="679" y="618" width="4" height="2" fill="#ff5252"/>
<rect x="684" y="618" width="5" height="1" fill="#ffcdd2"/>
<rect x="690" y="618" width="4" height="1" fill="#ffcdd2"/>
<rect x="695" y="618" width="5" height="1" fill="#ff5252"/>
<rect x="701" y="618" width="4" height="2" fill="#ff5252"/>
<rect x="706" y="618" width="5" height="5" fill="#ff5252"/>
<rect x="712" y="618" width="4" height="5" fill="#ff5252"/>
<rect x="717" y="618" width="4" height="7" fill="#ff5252"/>
<rect x="722" y="618" width="5" height="8" fill="#ff5252"/>
<rect x="728" y="618" width="4" height="7" fill="#ffcdd2"/>
<rect x="733" y="618" width="5" height="8" fill="#ffcdd2"/>
<rect x="739" y="618" width="4" height="6" fill="#ffcdd2"/>
<rect x="744" y="618" width="5" height="12" fill="#ff5252"/>
<rect x="750" y="618" width="4" height="13" fill="#ff5252"/>
<rect x="755" y="618" width="5" height="13" fill="#ff5252"/>
<rect x="761" y="618" width="4" height="12" fill="#ffcdd2"/>
<rect x="766" y="618" width="5" height="9" fill="#ffcdd2"/>
<rect x="772" y="618" width="4" height="6" fill="#ffcdd2"/>
<rect x="777" y="618" width="5" height="4" fill="#ffcdd2"/>
<rect x="783" y="618" width="4" height="3" fill="#ffcdd2"/>
<rect x="788" y="617" width="5" height="2" fill="#26a69a"/>
<rect x="794" y="617" width="4" height="2" fill="#26a69a"/>
<rect x="799" y="616" width="4" height="3" fill="#26a69a"/>
<rect x="804" y="616" width="5" height="3" fill="#b2dfdb"/>
<rect x="810" y="616" width="4" height="3" fill="#26a69a"/>
<rect x="815" y="618" width="5" height="1" fill="#b2dfdb"/>
<rect x="821" y="618" width="4" height="2" fill="#ff5252"/>
<rect x="826" y="618" width="5" height="4" fill="#ff5252"/>
<rect x="832" y="618" width="4" height="5" fill="#ff5252"/>
<rect x="837" y="618" width="5" height="5" fill="#ffcdd2"/>
<rect x="843" y="618" width="4" height="3" fill="#ffcdd2"/>
<rect x="848" y="618" width="5" height="1" fill="#ffcdd2"/>
<rect x="854" y="617" width="4" height="2" fill="#26a69a"/>
<rect x="859" y="616" width="5" height="3" fill="#26a69a"/>
<rect x="865" y="615" width="4" height="4" fill="#26a69a"/>
<rect x="870" y="612" width="5" height="7" fill="#26a69a"/>
<rect x="876" y="610" width="4" height="9" fill="#26a69a"/>
<rect x="881" y="608" width="5" height="11" fill="#26a69a"/>
<rect x="887" y="609" width="4" height="10" fill="#b2dfdb"/>
<rect x="892" y="609" width="4" height="10" fill="#b2dfdb"/>
<rect x="897" y="611" width="5" height="8" fill="#b2dfdb"/>
<rect x="903" y="615" width="4" height="4" fill="#b2dfdb"/>
<rect x="908" y="614" width="5" height="5" fill="#26a69a"/>
<rect x="914" y="616" width="4" height="3" fill="#b2dfdb"/>
<rect x="919" y="615" width="5" height="4" fill="#26a69a"/>
<rect x="925" y="614" width="4" height="5" fill="#26a69a"/>
<rect x="930" y="614" width="5" height="5" fill="#26a69a"/>
<rect x="936" y="613" width="4" height="6" fill="#26a69a"/>
<rect x="941" y="613" width="5" height="6" fill="#b2dfdb"/>
<rect x="947" y="613" width="4" height="6" fill="#26a69a"/>
<rect x="952" y="612" width="5" height="7" fill="#26a69a"/>
<rect x="958" y="613" width="4" height="6" fill="#b2dfdb"/>
<rect x="963" y="613" width="5" height="6" fill="#b2dfdb"/>
<rect x="969" y="614" width="4" height="5" fill="#b2dfdb"/>
<rect x="974" y="616" width="4" height="3" fill="#b2dfdb"/>
<rect x="979" y="614" width="5" height="5" fill="#26a69a"/>
<rect x="985" y="612" width="4" height="7" fill="#26a69a"/>
<rect x="990" y="612" width="5" height="7" fill="#b2dfdb"/>
<rect x="996" y="611" width="4" height="8" fill="#26a69a"/>
<rect x="1001" y="611" width="5" height="8" fill="#b2dfdb"/>
<rect x="1007" y="608" width="4" height="11" fill="#26a69a"/>
<rect x="1012" y="609" width="5" height="10" fill="#b2dfdb"/>
<rect x="1018" y="610" width="4" height="9" fill="#b2dfdb"/>
<rect x="1023" y="611" width="5" height="8" fill="#b2dfdb"/>
<rect x="1029" y="614" width="4" height="5" fill="#b2dfdb"/>
<rect x="1034" y="614" width="5" height="5" fill="#b2dfdb"/>
<rect x="1040" y="615" width="4" height="4" fill="#b2dfdb"/>
<rect x="1045" y="616" width="5" height="3" fill="#b2dfdb"/>
<rect x="1051" y="616" width="4" height="3" fill="#b2dfdb"/>
<rect x="1056" y="616" width="4" height="3" fill="#26a69a"/>
<rect x="1061" y="617" width="5" height="2" fill="#b2dfdb"/>
<rect x="1067" y="617" width="4" height="2" fill="#b2dfdb"/>
<rect x="1072" y="616" width="5" height="3" fill="#26a69a"/>
<rect x="1078" y="616" width="4" height="3" fill="#26a69a"/>
<rect x="1083" y="616" width="5" height="3" fill="#b2dfdb"/>
<rect x="1089" y="618" width="4" height="1" fill="#b2dfdb"/>
<rect x="1094" y="618" width="5" height="3" fill="#ff5252"/>
<rect x="1100" y="618" width="4" height="4" fill="#ff5252"/>
<rect x="1105" y="618" width="5" height="6" fill="#ff5252"/>
<rect x="1111" y="618" width="4" height="7" fill="#ff5252"/>
<rect x="1116" y="618" width="5" height="8" fill="#ff5252"/>
<rect x="1122" y="618" width="4" height="8" fill="#ff5252"/>
<rect x="1127" y="618" width="5" height="8" fill="#ffcdd2"/>
<rect x="1133" y="618" width="4" height="8" fill="#ff5252"/>
<rect x="1138" y="618" width="4" height="7" fill="#ffcdd2"/>
<rect x="1143" y="618" width="5" height="7" fill="#ffcdd2"/>
<rect x="1149" y="618" width="4" height="9" fill="#ff5252"/>
<rect x="1154" y="618" width="5" height="9" fill="#ff5252"/>
<rect x="1160" y="618" width="4" height="10" fill="#ff5252"/>
<rect x="1165" y="618" width="5" height="9" fill="#ffcdd2"/>
<rect x="1171" y="618" width="4" height="6" fill="#ffcdd2"/>
<rect x="1176" y="618" width="5" height="8" fill="#ff5252"/>
<rect x="1182" y="618" width="4" height="9" fill="#ff5252"/>
<rect x="1187" y="618" width="5" height="9" fill="#ff5252"/>
<rect x="1193" y="618" width="4" height="10" fill="#ff5252"/>
<rect x="1198" y="618" width="5" height="9" fill="#ffcdd2"/>
<rect x="1204" y="618" width="4" height="9" fill="#ff5252"/>
<rect x="1209" y="618" width="5" height="7" fill="#ffcdd2"/>
<rect x="1215" y="618" width="4" height="6" fill="#ffcdd2"/>
<rect x="1220" y="618" width="4" height="5" fill="#ffcdd2"/>
<rect x="1225" y="617" width="5" height="2" fill="#26a69a"/>
<rect x="1231" y="615" width="4" height="4" fill="#26a69a"/>
<rect x="1236" y="614" width="5" height="5" fill="#26a69a"/>
<rect x="1242" y="613" width="4" height="6" fill="#26a69a"/>
<rect x="1247" y="614" width="5" height="5" fill="#b2dfdb"/>
<rect x="1253" y="615" width="4" height="4" fill="#b2dfdb"/>
<rect x="1258" y="614" width="5" height="5" fill="#26a69a"/>
<rect x="1264" y="615" width="4" height="4" fill="#b2dfdb"/>
<rect x="1269" y="618" width="5" height="1" fill="#b2dfdb"/>
<rect x="1275" y="618" width="4" height="4" fill="#ff5252"/>
<rect x="1280" y="618" width="5" height="7" fill="#ff5252"/>
<rect x="1286" y="618" width="4" height="6" fill="#ffcdd2"/>
<rect x="1291" y="618" width="5" height="6" fill="#ff5252"/>
<rect x="1297" y="618" width="4" height="4" fill="#ffcdd2"/>
<rect x="1302" y="618" width="5" height="3" fill="#ffcdd2"/>
<rect x="1308" y="617" width="4" height="2" fill="#26a69a"/>
<rect x="1313" y="616" width="4" height="3" fill="#26a69a"/>
<rect x="1318" y="616" width="5" height="3" fill="#26a69a"/>
<rect x="1324" y="614" width="4" height="5" fill="#26a69a"/>
<rect x="1329" y="608" width="5" height="11" fill="#26a69a"/>
</g>
<line x1="14" x2="1458" y1="618.5" y2="618.5" stroke="#787b86" stroke-opacity="0.5" stroke-width="1" stroke-dasharray="5 6" stroke-dashoffset="0.9"/>
<defs><clipPath id="os"><rect x="14" y="507" width="1444" height="26"/></clipPath><clipPath id="ob"><rect x="14" y="378" width="1444" height="25"/></clipPath></defs>
<polygon points="9.0,506.5 9.0,391.0 14.5,431.6 20.5,430.5 25.5,431.3 31.5,427.0 36.5,414.5 42.5,402.9 47.5,404.0 52.5,392.8 58.5,417.3 63.5,415.3 69.5,425.7 74.5,439.4 80.5,432.4 85.5,436.8 91.5,430.1 96.5,435.1 102.5,441.4 107.5,429.8 113.5,427.7 118.5,425.7 124.5,432.4 129.5,442.5 134.5,448.4 140.5,435.5 145.5,438.6 151.5,434.7 156.5,440.2 162.5,445.9 167.5,464.7 173.5,461.6 178.5,457.3 184.5,466.1 189.5,461.6 195.5,452.2 200.5,461.2 206.5,445.9 211.5,434.4 216.5,444.4 222.5,438.6 227.5,432.4 233.5,427.0 238.5,399.5 244.5,416.9 249.5,412.4 255.5,407.3 260.5,420.7 266.5,432.6 271.5,442.0 277.5,435.8 282.5,461.7 288.5,466.8 293.5,457.2 298.5,467.2 304.5,458.3 309.5,455.7 315.5,449.0 320.5,445.1 326.5,461.4 331.5,454.4 337.5,470.7 342.5,509.9 348.5,515.8 353.5,513.5 359.5,504.9 364.5,487.1 370.5,490.2 375.5,489.7 380.5,488.9 386.5,493.0 391.5,492.5 397.5,493.3 402.5,475.1 408.5,480.4 413.5,486.7 419.5,491.2 424.5,482.4 430.5,487.1 435.5,485.5 441.5,497.9 446.5,494.5 452.5,501.5 457.5,483.6 463.5,490.2 468.5,496.7 473.5,498.4 479.5,498.7 484.5,505.2 490.5,488.3 495.5,491.2 501.5,475.1 506.5,471.2 512.5,457.5 517.5,461.1 523.5,457.8 528.5,450.5 534.5,459.5 539.5,459.5 545.5,460.3 550.5,464.2 555.5,448.2 561.5,463.4 566.5,461.4 572.5,450.5 577.5,449.0 583.5,456.4 588.5,445.1 594.5,434.5 599.5,437.8 605.5,446.6 610.5,454.7 616.5,451.3 621.5,454.7 627.5,470.3 632.5,463.7 637.5,450.5 643.5,454.4 648.5,455.5 654.5,463.7 659.5,451.8 665.5,449.4 670.5,451.3 676.5,445.5 681.5,466.5 687.5,463.0 692.5,456.7 698.5,459.5 703.5,461.4 709.5,487.4 714.5,479.1 719.5,490.2 725.5,498.3 730.5,488.6 736.5,486.3 741.5,475.0 747.5,520.3 752.5,502.9 758.5,504.0 763.5,497.8 769.5,484.0 774.5,476.0 780.5,476.5 785.5,478.8 791.5,468.0 796.5,475.3 801.5,474.2 807.5,483.0 812.5,479.1 818.5,495.9 823.5,492.4 829.5,501.1 834.5,507.9 840.5,495.2 845.5,475.4 851.5,478.1 856.5,479.1 862.5,470.3 867.5,468.4 873.5,442.0 878.5,439.2 884.5,435.3 889.5,446.5 894.5,443.4 900.5,459.1 905.5,481.6 911.5,450.1 916.5,464.8 922.5,450.1 927.5,444.6 933.5,448.2 938.5,440.1 944.5,446.0 949.5,440.4 955.5,435.0 960.5,442.9 966.5,439.3 971.5,444.0 976.5,452.8 982.5,428.1 987.5,415.7 993.5,431.2 998.5,420.3 1004.5,428.9 1009.5,408.7 1015.5,425.3 1020.5,425.3 1026.5,423.4 1031.5,434.2 1037.5,427.6 1042.5,427.3 1048.5,423.8 1053.5,423.8 1058.5,417.9 1064.5,420.3 1069.5,417.1 1075.5,406.3 1080.5,408.2 1086.5,411.6 1091.5,421.7 1097.5,436.5 1102.5,432.0 1108.5,446.3 1113.5,440.9 1119.5,453.6 1124.5,447.9 1130.5,440.4 1135.5,449.1 1140.5,440.9 1146.5,448.9 1151.5,469.1 1157.5,470.7 1162.5,470.4 1168.5,458.3 1173.5,443.2 1179.5,474.7 1184.5,476.1 1190.5,477.4 1195.5,488.3 1201.5,470.4 1206.5,480.5 1212.5,470.9 1217.5,469.6 1222.5,461.1 1228.5,433.9 1233.5,441.2 1239.5,440.4 1244.5,437.0 1250.5,445.5 1255.5,449.7 1261.5,439.8 1266.5,447.1 1272.5,461.8 1277.5,489.8 1283.5,485.9 1288.5,468.5 1294.5,474.3 1299.5,450.5 1305.5,454.8 1310.5,442.9 1315.5,443.7 1321.5,448.6 1326.5,431.5 1332.5,404.6 1332.5,506.5" fill="#f23645" fill-opacity="0.06" clip-path="url(#os)"/>
<polygon points="9.0,403.5 9.0,391.0 14.5,431.6 20.5,430.5 25.5,431.3 31.5,427.0 36.5,414.5 42.5,402.9 47.5,404.0 52.5,392.8 58.5,417.3 63.5,415.3 69.5,425.7 74.5,439.4 80.5,432.4 85.5,436.8 91.5,430.1 96.5,435.1 102.5,441.4 107.5,429.8 113.5,427.7 118.5,425.7 124.5,432.4 129.5,442.5 134.5,448.4 140.5,435.5 145.5,438.6 151.5,434.7 156.5,440.2 162.5,445.9 167.5,464.7 173.5,461.6 178.5,457.3 184.5,466.1 189.5,461.6 195.5,452.2 200.5,461.2 206.5,445.9 211.5,434.4 216.5,444.4 222.5,438.6 227.5,432.4 233.5,427.0 238.5,399.5 244.5,416.9 249.5,412.4 255.5,407.3 260.5,420.7 266.5,432.6 271.5,442.0 277.5,435.8 282.5,461.7 288.5,466.8 293.5,457.2 298.5,467.2 304.5,458.3 309.5,455.7 315.5,449.0 320.5,445.1 326.5,461.4 331.5,454.4 337.5,470.7 342.5,509.9 348.5,515.8 353.5,513.5 359.5,504.9 364.5,487.1 370.5,490.2 375.5,489.7 380.5,488.9 386.5,493.0 391.5,492.5 397.5,493.3 402.5,475.1 408.5,480.4 413.5,486.7 419.5,491.2 424.5,482.4 430.5,487.1 435.5,485.5 441.5,497.9 446.5,494.5 452.5,501.5 457.5,483.6 463.5,490.2 468.5,496.7 473.5,498.4 479.5,498.7 484.5,505.2 490.5,488.3 495.5,491.2 501.5,475.1 506.5,471.2 512.5,457.5 517.5,461.1 523.5,457.8 528.5,450.5 534.5,459.5 539.5,459.5 545.5,460.3 550.5,464.2 555.5,448.2 561.5,463.4 566.5,461.4 572.5,450.5 577.5,449.0 583.5,456.4 588.5,445.1 594.5,434.5 599.5,437.8 605.5,446.6 610.5,454.7 616.5,451.3 621.5,454.7 627.5,470.3 632.5,463.7 637.5,450.5 643.5,454.4 648.5,455.5 654.5,463.7 659.5,451.8 665.5,449.4 670.5,451.3 676.5,445.5 681.5,466.5 687.5,463.0 692.5,456.7 698.5,459.5 703.5,461.4 709.5,487.4 714.5,479.1 719.5,490.2 725.5,498.3 730.5,488.6 736.5,486.3 741.5,475.0 747.5,520.3 752.5,502.9 758.5,504.0 763.5,497.8 769.5,484.0 774.5,476.0 780.5,476.5 785.5,478.8 791.5,468.0 796.5,475.3 801.5,474.2 807.5,483.0 812.5,479.1 818.5,495.9 823.5,492.4 829.5,501.1 834.5,507.9 840.5,495.2 845.5,475.4 851.5,478.1 856.5,479.1 862.5,470.3 867.5,468.4 873.5,442.0 878.5,439.2 884.5,435.3 889.5,446.5 894.5,443.4 900.5,459.1 905.5,481.6 911.5,450.1 916.5,464.8 922.5,450.1 927.5,444.6 933.5,448.2 938.5,440.1 944.5,446.0 949.5,440.4 955.5,435.0 960.5,442.9 966.5,439.3 971.5,444.0 976.5,452.8 982.5,428.1 987.5,415.7 993.5,431.2 998.5,420.3 1004.5,428.9 1009.5,408.7 1015.5,425.3 1020.5,425.3 1026.5,423.4 1031.5,434.2 1037.5,427.6 1042.5,427.3 1048.5,423.8 1053.5,423.8 1058.5,417.9 1064.5,420.3 1069.5,417.1 1075.5,406.3 1080.5,408.2 1086.5,411.6 1091.5,421.7 1097.5,436.5 1102.5,432.0 1108.5,446.3 1113.5,440.9 1119.5,453.6 1124.5,447.9 1130.5,440.4 1135.5,449.1 1140.5,440.9 1146.5,448.9 1151.5,469.1 1157.5,470.7 1162.5,470.4 1168.5,458.3 1173.5,443.2 1179.5,474.7 1184.5,476.1 1190.5,477.4 1195.5,488.3 1201.5,470.4 1206.5,480.5 1212.5,470.9 1217.5,469.6 1222.5,461.1 1228.5,433.9 1233.5,441.2 1239.5,440.4 1244.5,437.0 1250.5,445.5 1255.5,449.7 1261.5,439.8 1266.5,447.1 1272.5,461.8 1277.5,489.8 1283.5,485.9 1288.5,468.5 1294.5,474.3 1299.5,450.5 1305.5,454.8 1310.5,442.9 1315.5,443.7 1321.5,448.6 1326.5,431.5 1332.5,404.6 1332.5,403.5" fill="#089981" fill-opacity="0.06" clip-path="url(#ob)"/>
<polyline points="13.4,418.1 25.5,417.6 41.1,417.2 52.0,413.8 58.2,413.0 63.6,413.4 69.1,414.8 76.8,418.0 85.4,421.8 92.4,421.8 101.7,422.8 112.6,423.9 118.8,425.7 126.6,429.6 134.4,433.2 143.7,435.2 153.0,435.1 161.6,436.3 167.0,439.1 177.9,442.2 188.8,447.2 196.5,450.0 203.5,451.1 210.5,450.0 218.3,450.8 227.6,450.6 233.1,449.0 240.1,444.8 246.3,441.3 254.5,436.2 261.8,432.2 266.4,430.8 271.1,430.0 277.0,428.0 282.0,429.2 287.9,431.6 292.9,432.6 298.0,434.7 304.2,436.5 309.2,438.6 315.1,441.7 320.5,444.0 325.2,446.6 331.7,450.5 336.8,453.9 341.8,459.1 348.3,465.0 353.0,470.4 358.9,473.4 364.0,475.1 369.5,477.3 375.2,478.8 380.7,481.1 385.7,483.6 391.6,486.7 396.7,490.2 401.7,491.2 407.6,493.0 413.0,494.4 419.2,493.0 424.2,490.6 429.6,488.6 435.6,487.5 440.2,488.6 445.7,488.6 451.9,489.4 456.9,489.1 462.3,489.1 468.0,489.1 473.2,489.7 476.2,490.6 484.5,493.3 489.4,493.4 495.3,493.3 500.3,492.8 506.5,491.4 511.7,489.4 516.6,486.7 522.9,484.3 528.0,480.8 533.0,478.8 539.2,476.5 544.1,474.1 550.4,471.5 555.5,467.9 560.9,465.0 566.8,463.0 571.8,460.3 576.8,458.3 583.0,457.2 588.9,456.0 594.0,454.4 599.5,453.2 605.2,452.5 610.7,452.4 615.7,451.6 620.8,451.6 626.7,451.8 632.1,452.9 637.9,452.1 643.0,451.6 648.0,452.1 654.2,452.9 659.6,452.9 664.3,453.2 670.5,454.1 675.7,454.7 681.9,456.0 686.9,456.7 692.3,457.2 698.0,457.2 703.2,457.0 708.1,458.3 714.5,460.5 719.4,463.0 725.6,466.1 730.6,468.0 735.8,470.3 741.7,472.2 746.6,477.0 751.8,480.9 757.8,483.5 763.0,486.1 768.9,488.5 774.6,489.7 779.6,490.5 785.2,490.0 790.5,489.3 795.9,488.2 801.8,486.6 806.8,485.8 813.0,485.5 817.7,486.6 823.1,484.7 829.0,484.7 834.2,485.1 839.4,485.1 845.3,484.3 850.8,484.3 856.7,484.6 862.1,484.3 867.1,484.0 873.0,481.9 878.0,479.3 883.0,476.2 888.9,473.7 894.3,470.0 900.5,467.6 905.7,466.1 910.6,462.2 916.9,459.9 921.8,457.9 927.0,455.5 933.2,453.5 938.1,451.0 944.5,449.7 954.4,449.1 960.6,449.6 965.4,449.1 970.7,449.1 976.6,448.6 981.6,445.1 988.0,442.4 993.0,440.1 997.9,438.1 1004.3,436.7 1009.3,434.2 1014.4,432.8 1020.2,431.5 1025.6,430.3 1031.8,429.5 1036.8,428.4 1041.9,428.0 1047.7,426.4 1053.1,424.5 1057.9,423.8 1064.2,423.9 1069.1,423.0 1074.3,421.9 1080.0,420.6 1085.4,420.6 1090.9,420.6 1096.8,421.7 1101.8,422.2 1108.0,423.0 1113.0,424.1 1118.1,425.8 1124.3,427.3 1129.4,428.7 1135.5,430.8 1140.6,432.3 1145.6,434.6 1151.8,439.0 1157.0,443.5 1161.9,447.5 1168.1,449.9 1172.9,451.0 1179.1,454.1 1184.4,456.4 1189.1,458.7 1195.4,461.1 1200.4,462.9 1205.4,465.4 1211.8,467.3 1216.7,469.3 1223.0,470.1 1227.9,467.7 1233.1,465.7 1238.5,463.7 1244.4,461.8 1249.4,462.2 1255.3,460.3 1260.6,457.6 1266.8,455.3 1271.9,453.6 1276.6,454.8 1282.8,455.3 1287.9,455.0 1293.2,455.6 1299.1,454.8 1304.3,456.1 1310.3,456.2 1315.4,456.6 1320.6,457.6 1326.8,456.4 1331.8,453.3" fill="none" stroke="#fdd835" stroke-width="1.4" stroke-linejoin="round" stroke-linecap="round"/>
<polyline points="9.0,391.0 14.5,431.6 20.5,430.5 25.5,431.3 31.5,427.0 36.5,414.5 42.5,402.9 47.5,404.0 52.5,392.8 58.5,417.3 63.5,415.3 69.5,425.7 74.5,439.4 80.5,432.4 85.5,436.8 91.5,430.1 96.5,435.1 102.5,441.4 107.5,429.8 113.5,427.7 118.5,425.7 124.5,432.4 129.5,442.5 134.5,448.4 140.5,435.5 145.5,438.6 151.5,434.7 156.5,440.2 162.5,445.9 167.5,464.7 173.5,461.6 178.5,457.3 184.5,466.1 189.5,461.6 195.5,452.2 200.5,461.2 206.5,445.9 211.5,434.4 216.5,444.4 222.5,438.6 227.5,432.4 233.5,427.0 238.5,399.5 244.5,416.9 249.5,412.4 255.5,407.3 260.5,420.7 266.5,432.6 271.5,442.0 277.5,435.8 282.5,461.7 288.5,466.8 293.5,457.2 298.5,467.2 304.5,458.3 309.5,455.7 315.5,449.0 320.5,445.1 326.5,461.4 331.5,454.4 337.5,470.7 342.5,509.9 348.5,515.8 353.5,513.5 359.5,504.9 364.5,487.1 370.5,490.2 375.5,489.7 380.5,488.9 386.5,493.0 391.5,492.5 397.5,493.3 402.5,475.1 408.5,480.4 413.5,486.7 419.5,491.2 424.5,482.4 430.5,487.1 435.5,485.5 441.5,497.9 446.5,494.5 452.5,501.5 457.5,483.6 463.5,490.2 468.5,496.7 473.5,498.4 479.5,498.7 484.5,505.2 490.5,488.3 495.5,491.2 501.5,475.1 506.5,471.2 512.5,457.5 517.5,461.1 523.5,457.8 528.5,450.5 534.5,459.5 539.5,459.5 545.5,460.3 550.5,464.2 555.5,448.2 561.5,463.4 566.5,461.4 572.5,450.5 577.5,449.0 583.5,456.4 588.5,445.1 594.5,434.5 599.5,437.8 605.5,446.6 610.5,454.7 616.5,451.3 621.5,454.7 627.5,470.3 632.5,463.7 637.5,450.5 643.5,454.4 648.5,455.5 654.5,463.7 659.5,451.8 665.5,449.4 670.5,451.3 676.5,445.5 681.5,466.5 687.5,463.0 692.5,456.7 698.5,459.5 703.5,461.4 709.5,487.4 714.5,479.1 719.5,490.2 725.5,498.3 730.5,488.6 736.5,486.3 741.5,475.0 747.5,520.3 752.5,502.9 758.5,504.0 763.5,497.8 769.5,484.0 774.5,476.0 780.5,476.5 785.5,478.8 791.5,468.0 796.5,475.3 801.5,474.2 807.5,483.0 812.5,479.1 818.5,495.9 823.5,492.4 829.5,501.1 834.5,507.9 840.5,495.2 845.5,475.4 851.5,478.1 856.5,479.1 862.5,470.3 867.5,468.4 873.5,442.0 878.5,439.2 884.5,435.3 889.5,446.5 894.5,443.4 900.5,459.1 905.5,481.6 911.5,450.1 916.5,464.8 922.5,450.1 927.5,444.6 933.5,448.2 938.5,440.1 944.5,446.0 949.5,440.4 955.5,435.0 960.5,442.9 966.5,439.3 971.5,444.0 976.5,452.8 982.5,428.1 987.5,415.7 993.5,431.2 998.5,420.3 1004.5,428.9 1009.5,408.7 1015.5,425.3 1020.5,425.3 1026.5,423.4 1031.5,434.2 1037.5,427.6 1042.5,427.3 1048.5,423.8 1053.5,423.8 1058.5,417.9 1064.5,420.3 1069.5,417.1 1075.5,406.3 1080.5,408.2 1086.5,411.6 1091.5,421.7 1097.5,436.5 1102.5,432.0 1108.5,446.3 1113.5,440.9 1119.5,453.6 1124.5,447.9 1130.5,440.4 1135.5,449.1 1140.5,440.9 1146.5,448.9 1151.5,469.1 1157.5,470.7 1162.5,470.4 1168.5,458.3 1173.5,443.2 1179.5,474.7 1184.5,476.1 1190.5,477.4 1195.5,488.3 1201.5,470.4 1206.5,480.5 1212.5,470.9 1217.5,469.6 1222.5,461.1 1228.5,433.9 1233.5,441.2 1239.5,440.4 1244.5,437.0 1250.5,445.5 1255.5,449.7 1261.5,439.8 1266.5,447.1 1272.5,461.8 1277.5,489.8 1283.5,485.9 1288.5,468.5 1294.5,474.3 1299.5,450.5 1305.5,454.8 1310.5,442.9 1315.5,443.7 1321.5,448.6 1326.5,431.5 1332.5,404.6" fill="none" stroke="#7e57c2" stroke-width="1.45" stroke-linejoin="round" stroke-linecap="round"/>
<polyline points="14.5,561.0 20.5,564.4 25.5,567.5 31.5,569.6 36.5,567.8 42.5,561.3 47.5,557.4 52.5,551.7 58.5,550.1 63.5,550.4 69.5,553.5 74.5,559.0 80.5,562.9 85.5,566.8 91.5,568.8 96.5,571.4 102.5,576.1 107.5,576.6 113.5,576.9 118.5,576.9 124.5,578.7 129.5,582.3 134.5,587.0 140.5,587.7 145.5,589.3 151.5,590.1 156.5,591.6 162.5,594.7 167.5,600.6 173.5,604.5 178.5,607.5 184.5,610.7 189.5,613.7 195.5,614.2 200.5,616.0 206.5,614.9 211.5,612.1 216.5,611.4 222.5,609.5 227.5,607.2 233.5,604.1 238.5,593.5 244.5,588.5 249.5,586.0 255.5,579.3 260.5,578.2 266.5,579.5 271.5,582.9 277.5,584.7 282.5,591.7 288.5,598.1 293.5,602.8 298.5,608.1 304.5,610.4 309.5,612.1 315.5,611.6 320.5,610.9 326.5,613.7 331.5,614.7 337.5,619.4 342.5,635.7 348.5,653.1 353.5,667.6 359.5,675.4 364.5,677.2 370.5,678.8 375.5,678.9 380.5,678.5 386.5,678.9 391.5,678.2 397.5,677.2 402.5,672.7 408.5,670.7 413.5,669.6 419.5,669.5 424.5,667.3 430.5,666.4 435.5,665.3 441.5,666.8 446.5,666.8 452.5,668.4 457.5,666.8 463.5,666.8 468.5,667.6 473.5,668.1 479.5,668.1 484.5,669.5 490.5,667.6 495.5,666.8 501.5,662.5 506.5,658.3 512.5,652.8 517.5,648.2 523.5,644.3 528.5,639.6 534.5,636.5 539.5,634.5 545.5,632.6 550.5,631.5 555.5,628.7 561.5,628.0 566.5,627.5 572.5,625.3 577.5,623.6 583.5,622.8 588.5,621.0 594.5,617.9 599.5,615.8 605.5,615.1 610.5,615.2 616.5,615.2 621.5,615.8 627.5,617.9 632.5,619.1 637.5,618.9 643.5,618.6 648.5,618.6 654.5,619.4 659.5,618.6 665.5,617.9 670.5,617.9 676.5,616.8 681.5,618.3 687.5,618.9 692.5,619.4 698.5,619.7 703.5,619.9 709.5,623.6 714.5,625.3 719.5,628.3 725.5,631.1 730.5,632.6 736.5,633.4 741.5,632.6 747.5,640.9 752.5,645.4 758.5,648.2 763.5,650.2 769.5,649.7 774.5,647.9 780.5,645.8 785.5,644.7 791.5,641.9 796.5,640.7 801.5,639.6 807.5,639.6 812.5,639.1 818.5,640.9 823.5,642.3 829.5,644.3 834.5,646.9 840.5,647.4 845.5,645.8 851.5,644.3 856.5,643.0 862.5,641.2 867.5,638.8 873.5,634.6 878.5,630.3 884.5,625.6 889.5,623.8 894.5,621.4 900.5,621.7 905.5,624.4 911.5,622.8 916.5,623.6 922.5,621.7 927.5,619.4 933.5,617.9 938.5,616.0 944.5,615.1 949.5,613.5 955.5,611.3 960.5,610.9 966.5,609.8 971.5,609.8 976.5,610.9 982.5,607.7 987.5,603.4 993.5,602.0 998.5,598.7 1004.5,598.1 1009.5,593.0 1015.5,591.0 1020.5,589.9 1026.5,589.4 1031.5,590.3 1037.5,590.3 1042.5,590.6 1048.5,590.6 1053.5,590.6 1058.5,589.9 1064.5,589.9 1069.5,589.9 1075.5,588.0 1080.5,587.1 1086.5,587.1 1091.5,588.3 1097.5,591.4 1102.5,593.8 1108.5,596.6 1113.5,598.7 1119.5,601.5 1124.5,603.4 1130.5,604.3 1135.5,605.9 1140.5,606.2 1146.5,607.4 1151.5,611.2 1157.5,614.4 1162.5,616.6 1168.5,616.6 1173.5,615.5 1179.5,619.1 1184.5,622.2 1190.5,625.2 1195.5,627.5 1201.5,628.0 1206.5,629.8 1212.5,630.3 1217.5,630.3 1222.5,629.0 1228.5,624.4 1233.5,621.7 1239.5,618.9 1244.5,617.1 1250.5,616.3 1255.5,616.3 1261.5,614.7 1266.5,614.4 1272.5,616.0 1277.5,621.3 1283.5,624.8 1288.5,625.9 1294.5,627.5 1299.5,625.6 1305.5,624.1 1310.5,621.7 1315.5,619.7 1321.5,618.6 1326.5,616.0 1332.5,606.7" fill="none" stroke="#2962ff" stroke-width="1.4" stroke-linejoin="round" stroke-linecap="round"/>
<polyline points="14.5,575.3 20.5,573.0 25.5,571.9 31.5,571.1 36.5,570.3 42.5,568.3 47.5,566.0 52.5,563.3 58.5,560.5 63.5,558.5 69.5,558.2 74.5,559.0 80.5,560.1 85.5,561.3 91.5,562.9 96.5,564.7 102.5,567.2 107.5,569.1 113.5,570.6 118.5,572.2 124.5,573.8 129.5,575.3 134.5,578.0 140.5,579.7 145.5,581.5 151.5,583.4 156.5,584.6 162.5,586.7 167.5,589.3 173.5,592.4 178.5,595.5 184.5,598.6 189.5,601.4 195.5,604.1 200.5,606.4 206.5,608.3 211.5,609.2 216.5,609.5 222.5,609.2 227.5,609.0 233.5,608.0 238.5,605.2 244.5,602.0 249.5,599.5 255.5,593.8 260.5,591.0 266.5,588.6 271.5,587.9 277.5,587.5 282.5,588.3 288.5,590.3 293.5,593.3 298.5,596.1 304.5,598.9 309.5,601.5 315.5,603.4 320.5,605.1 326.5,606.7 331.5,608.1 337.5,610.4 342.5,615.5 348.5,623.3 353.5,632.9 359.5,641.2 364.5,648.2 370.5,653.9 375.5,658.3 380.5,662.5 386.5,666.0 391.5,668.4 397.5,670.4 402.5,671.0 408.5,671.0 413.5,670.4 419.5,670.4 424.5,669.9 430.5,669.2 435.5,668.4 441.5,668.1 446.5,667.9 452.5,667.9 457.5,667.6 463.5,667.6 468.5,667.6 473.5,667.6 479.5,667.6 484.5,667.9 490.5,668.1 495.5,667.6 501.5,666.8 506.5,665.0 512.5,662.5 517.5,659.4 523.5,656.4 528.5,653.1 534.5,649.7 539.5,646.9 545.5,644.0 550.5,641.5 555.5,639.1 561.5,636.8 566.5,635.0 572.5,632.9 577.5,630.8 583.5,629.2 588.5,627.5 594.5,625.6 599.5,623.6 605.5,621.7 610.5,620.5 616.5,619.4 621.5,618.9 627.5,618.6 632.5,618.9 637.5,618.9 643.5,618.8 648.5,618.8 654.5,618.9 659.5,618.8 665.5,618.6 670.5,618.3 676.5,618.0 681.5,618.3 687.5,618.6 692.5,618.9 698.5,619.1 703.5,619.1 709.5,619.9 714.5,621.3 719.5,622.8 725.5,624.1 730.5,625.6 736.5,627.2 741.5,628.7 747.5,631.1 752.5,633.9 758.5,636.8 763.5,639.3 769.5,641.2 774.5,642.4 780.5,643.2 785.5,643.5 791.5,643.0 796.5,642.4 801.5,641.9 807.5,641.5 812.5,641.2 818.5,641.2 823.5,641.5 829.5,641.6 834.5,642.7 840.5,643.8 845.5,644.3 851.5,644.3 856.5,644.0 862.5,643.2 867.5,642.3 873.5,640.7 878.5,638.4 884.5,635.7 889.5,633.4 894.5,631.1 900.5,629.0 905.5,628.0 911.5,626.9 916.5,626.1 922.5,625.2 927.5,624.1 933.5,622.8 938.5,622.0 944.5,620.7 949.5,618.9 955.5,617.4 960.5,616.0 966.5,614.7 971.5,614.0 976.5,613.5 982.5,612.4 987.5,610.5 993.5,608.5 998.5,606.7 1004.5,605.1 1009.5,602.3 1015.5,600.3 1020.5,598.4 1026.5,596.6 1031.5,595.3 1037.5,594.2 1042.5,593.4 1048.5,593.0 1053.5,592.2 1058.5,591.9 1064.5,591.7 1069.5,591.4 1075.5,590.6 1080.5,589.9 1086.5,589.4 1091.5,589.1 1097.5,589.4 1102.5,589.9 1108.5,591.1 1113.5,592.7 1119.5,594.5 1124.5,596.1 1130.5,597.6 1135.5,599.2 1140.5,600.8 1146.5,601.8 1151.5,603.9 1157.5,606.2 1162.5,608.2 1168.5,609.3 1173.5,610.5 1179.5,612.1 1184.5,614.0 1190.5,616.3 1195.5,618.6 1201.5,620.7 1206.5,622.5 1212.5,624.1 1217.5,625.2 1222.5,625.6 1228.5,625.2 1233.5,624.1 1239.5,622.8 1244.5,621.7 1250.5,620.7 1255.5,619.7 1261.5,618.6 1266.5,617.9 1272.5,617.9 1277.5,618.3 1283.5,619.9 1288.5,621.3 1294.5,622.8 1299.5,623.3 1305.5,623.3 1310.5,622.8 1315.5,622.2 1321.5,621.3 1326.5,620.2 1332.5,617.5" fill="none" stroke="#ff6d00" stroke-width="1.4" stroke-linejoin="round" stroke-linecap="round"/>
</g>
<rect x="20" y="46" width="678" height="16" fill="#fff" fill-opacity="0.7"/>
<text x="22.54" y="58.95" font-size="15.8" fill="#131722" stroke="#131722" stroke-width="0.15" textLength="65.95" lengthAdjust="spacingAndGlyphs">Ethereum</text>
<text x="93.58" y="58.95" font-size="15.8" fill="#131722" stroke="#131722" stroke-width="0.15" textLength="5.62" lengthAdjust="spacingAndGlyphs">/</text>
<text x="104.72" y="58.95" font-size="15.8" fill="#131722" stroke="#131722" stroke-width="0.15" textLength="27.98" lengthAdjust="spacingAndGlyphs">U.S.</text>
<text x="137.11" y="58.95" font-size="15.8" fill="#131722" stroke="#131722" stroke-width="0.15" textLength="40.65" lengthAdjust="spacingAndGlyphs">Dollar</text>
<text x="191.70" y="58.95" font-size="15.8" fill="#131722" stroke="#131722" stroke-width="0.15" textLength="16.10" lengthAdjust="spacingAndGlyphs">30</text>
<text x="221.43" y="58.95" font-size="15.8" fill="#131722" stroke="#131722" stroke-width="0.15" textLength="52.59" lengthAdjust="spacingAndGlyphs">CRYPTO</text>
<text x="282.07" y="58.95" font-size="15.8" fill="#131722" stroke="#131722" stroke-width="0.15" textLength="11.37" lengthAdjust="spacingAndGlyphs">O</text>
<text x="359.71" y="58.95" font-size="15.8" fill="#131722" stroke="#131722" stroke-width="0.15" textLength="10.37" lengthAdjust="spacingAndGlyphs">H</text>
<text x="436.93" y="58.95" font-size="15.8" fill="#131722" stroke="#131722" stroke-width="0.15" textLength="8.48" lengthAdjust="spacingAndGlyphs">L</text>
<text x="511.74" y="58.95" font-size="15.8" fill="#131722" stroke="#131722" stroke-width="0.15" textLength="9.04" lengthAdjust="spacingAndGlyphs">C</text>
<text x="184.40" y="58.95" font-size="15.8" fill="#131722" stroke="#131722" stroke-width="0.15" text-anchor="middle">·</text>
<text x="214.75" y="58.95" font-size="15.8" fill="#131722" stroke="#131722" stroke-width="0.15" text-anchor="middle">·</text>
<text x="292.33" y="58.95" font-size="15.8" fill="#089981" stroke="#089981" stroke-width="0.15" textLength="59.84" lengthAdjust="spacingAndGlyphs">2,570.67</text>
<text x="369.53" y="58.95" font-size="15.8" fill="#089981" stroke="#089981" stroke-width="0.15" textLength="59.42" lengthAdjust="spacingAndGlyphs">2,607.09</text>
<text x="444.54" y="58.95" font-size="15.8" fill="#089981" stroke="#089981" stroke-width="0.15" textLength="58.80" lengthAdjust="spacingAndGlyphs">2,570.59</text>
<text x="520.66" y="58.95" font-size="15.8" fill="#089981" stroke="#089981" stroke-width="0.15" textLength="57.14" lengthAdjust="spacingAndGlyphs">2,602.91</text>
<text x="588.19" y="58.95" font-size="15.8" fill="#089981" stroke="#089981" stroke-width="0.15" textLength="45.34" lengthAdjust="spacingAndGlyphs">+32.22</text>
<text x="637.62" y="58.95" font-size="15.8" fill="#089981" stroke="#089981" stroke-width="0.15" textLength="57.03" lengthAdjust="spacingAndGlyphs">(+1.25%)</text>
<text x="22.82" y="401.90" font-size="15.8" fill="#131722" stroke="#131722" stroke-width="0.15" textLength="20.42" lengthAdjust="spacingAndGlyphs">RSI</text>
<text x="47.94" y="401.90" font-size="15.8" fill="#131722" stroke="#131722" stroke-width="0.15" textLength="26.24" lengthAdjust="spacingAndGlyphs">(14,</text>
<text x="78.31" y="401.90" font-size="15.8" fill="#131722" stroke="#131722" stroke-width="0.15" textLength="40.45" lengthAdjust="spacingAndGlyphs">close)</text>
<text x="126.89" y="401.90" font-size="15.8" fill="#7e57c2" stroke="#7e57c2" stroke-width="0.15" textLength="38.29" lengthAdjust="spacingAndGlyphs">69.29</text>
<text x="173.17" y="401.90" font-size="15.8" fill="#fdd835" stroke="#fdd835" stroke-width="0.15" textLength="37.93" lengthAdjust="spacingAndGlyphs">50.55</text>
<text x="21.83" y="559.90" font-size="15.8" fill="#131722" stroke="#131722" stroke-width="0.15" textLength="39.14" lengthAdjust="spacingAndGlyphs">MACD</text>
<text x="65.96" y="559.90" font-size="15.8" fill="#131722" stroke="#131722" stroke-width="0.15" textLength="25.58" lengthAdjust="spacingAndGlyphs">(12,</text>
<text x="96.22" y="559.90" font-size="15.8" fill="#131722" stroke="#131722" stroke-width="0.15" textLength="21.57" lengthAdjust="spacingAndGlyphs">26,</text>
<text x="121.82" y="559.90" font-size="15.8" fill="#131722" stroke="#131722" stroke-width="0.15" textLength="40.35" lengthAdjust="spacingAndGlyphs">close)</text>
<text x="170.53" y="559.90" font-size="15.8" fill="#26a69a" stroke="#26a69a" stroke-width="0.15" textLength="30.23" lengthAdjust="spacingAndGlyphs">4.75</text>
<text x="208.75" y="559.90" font-size="15.8" fill="#2962ff" stroke="#2962ff" stroke-width="0.15" textLength="30.10" lengthAdjust="spacingAndGlyphs">5.08</text>
<text x="246.67" y="559.90" font-size="15.8" fill="#ff6d00" stroke="#ff6d00" stroke-width="0.15" textLength="30.08" lengthAdjust="spacingAndGlyphs">0.33</text>
<defs><clipPath id="ax1"><rect x="1459" y="35" width="80" height="341"/></clipPath><clipPath id="ax2"><rect x="1459" y="377" width="80" height="157.2"/></clipPath></defs>
<g clip-path="url(#ax1)">
<text x="1468.12" y="85.90" font-size="15.7" fill="#131722" stroke="#131722" stroke-width="0.15" textLength="60.72" lengthAdjust="spacingAndGlyphs">2,720.00</text>
<text x="1468.12" y="127.80" font-size="15.7" fill="#131722" stroke="#131722" stroke-width="0.15" textLength="60.72" lengthAdjust="spacingAndGlyphs">2,680.00</text>
<text x="1468.12" y="169.80" font-size="15.7" fill="#131722" stroke="#131722" stroke-width="0.15" textLength="60.72" lengthAdjust="spacingAndGlyphs">2,640.00</text>
<text x="1468.12" y="211.70" font-size="15.7" fill="#131722" stroke="#131722" stroke-width="0.15" textLength="60.72" lengthAdjust="spacingAndGlyphs">2,600.00</text>
<text x="1468.12" y="254.10" font-size="15.7" fill="#131722" stroke="#131722" stroke-width="0.15" textLength="60.72" lengthAdjust="spacingAndGlyphs">2,560.00</text>
<text x="1468.12" y="296.10" font-size="15.7" fill="#131722" stroke="#131722" stroke-width="0.15" textLength="60.72" lengthAdjust="spacingAndGlyphs">2,520.00</text>
<text x="1468.12" y="337.20" font-size="15.7" fill="#131722" stroke="#131722" stroke-width="0.15" textLength="60.72" lengthAdjust="spacingAndGlyphs">2,480.00</text>
</g>
<g clip-path="url(#ax2)">
<text x="1468.26" y="382.60" font-size="15.7" fill="#131722" stroke="#131722" stroke-width="0.15" textLength="38.43" lengthAdjust="spacingAndGlyphs">80.00</text>
<text x="1468.18" y="435.00" font-size="15.7" fill="#131722" stroke="#131722" stroke-width="0.15" textLength="38.50" lengthAdjust="spacingAndGlyphs">60.00</text>
<text x="1468.62" y="486.00" font-size="15.7" fill="#131722" stroke="#131722" stroke-width="0.15" textLength="38.06" lengthAdjust="spacingAndGlyphs">40.00</text>
<text x="1468.24" y="535.80" font-size="15.7" fill="#131722" stroke="#131722" stroke-width="0.15" textLength="38.45" lengthAdjust="spacingAndGlyphs">20.00</text>
</g>
<text x="1469.26" y="580.00" font-size="15.7" fill="#131722" stroke="#131722" stroke-width="0.15" textLength="37.31" lengthAdjust="spacingAndGlyphs">20.00</text>
<text x="1469.28" y="667.80" font-size="15.7" fill="#131722" stroke="#131722" stroke-width="0.15" textLength="45.02" lengthAdjust="spacingAndGlyphs">−20.00</text>
<rect x="1460" y="35.5" width="78.5" height="40.5" fill="#fff"/>
<rect x="1463" y="38.8" width="72.5" height="32" rx="4" fill="#fff" stroke="#eceef2" stroke-width="1.2"/>
<text x="1473.54" y="60.20" font-size="15.7" fill="#131722" stroke="#131722" stroke-width="0.15" textLength="27.45" lengthAdjust="spacingAndGlyphs">USD</text>
<path d="M1459 195H1511.2Q1513.2 195 1513.2 197.0V213.9Q1513.2 215.9 1511.2 215.9H1459Z" fill="#089981"/>
<text x="1469.83" y="210.95" font-size="15.7" fill="#c9e9e3" stroke="#c9e9e3" stroke-width="0.15" textLength="37.97" lengthAdjust="spacingAndGlyphs">14:52</text>
<path d="M1459 395H1511.0Q1513.0 395 1513.0 397.0V413.7Q1513.0 415.7 1511.0 415.7H1459Z" fill="#7e57c2"/>
<text x="1469.19" y="410.85" font-size="15.7" fill="#fff" stroke="#fff" stroke-width="0.15" textLength="38.41" lengthAdjust="spacingAndGlyphs">69.29</text>
<path d="M1459 443.1H1511.0Q1513.0 443.1 1513.0 445.1V461.8Q1513.0 463.8 1511.0 463.8H1459Z" fill="#fdd835"/>
<text x="1469.16" y="458.95" font-size="15.7" fill="#0b0b0f" stroke="#0b0b0f" stroke-width="0.15" textLength="38.39" lengthAdjust="spacingAndGlyphs">50.55</text>
<path d="M1459 577.1H1503.9Q1505.9 577.1 1505.9 579.1V596.2Q1505.9 598.2 1503.9 598.2H1459Z" fill="#2962ff"/>
<text x="1469.14" y="593.15" font-size="15.7" fill="#fff" stroke="#fff" stroke-width="0.15" textLength="30.62" lengthAdjust="spacingAndGlyphs">5.08</text>
<path d="M1459 598.2H1503.9Q1505.9 598.2 1505.9 600.2V616.9Q1505.9 618.9 1503.9 618.9H1459Z" fill="#26a69a"/>
<text x="1469.62" y="614.05" font-size="15.7" fill="#fff" stroke="#fff" stroke-width="0.15" textLength="30.07" lengthAdjust="spacingAndGlyphs">4.75</text>
<path d="M1459 618.9H1503.9Q1505.9 618.9 1505.9 620.9V637.9Q1505.9 639.9 1503.9 639.9H1459Z" fill="#ff6d00"/>
<text x="1469.36" y="634.90" font-size="15.7" fill="#fff" stroke="#fff" stroke-width="0.15" textLength="30.40" lengthAdjust="spacingAndGlyphs">0.33</text>
<text x="208.10" y="716.00" font-size="15.7" fill="#131722" stroke="#131722" stroke-width="0.15" textLength="16.79" lengthAdjust="spacingAndGlyphs">23</text>
<text x="471.00" y="716.00" font-size="15.7" fill="#131722" stroke="#131722" stroke-width="0.15" textLength="16.81" lengthAdjust="spacingAndGlyphs">24</text>
<text x="733.10" y="716.00" font-size="15.7" fill="#131722" stroke="#131722" stroke-width="0.15" textLength="16.73" lengthAdjust="spacingAndGlyphs">25</text>
<text x="995.64" y="716.00" font-size="15.7" fill="#131722" stroke="#131722" stroke-width="0.15" textLength="17.79" lengthAdjust="spacingAndGlyphs" font-weight="bold">26</text>
<text x="1257.99" y="716.00" font-size="15.7" fill="#131722" stroke="#131722" stroke-width="0.15" textLength="16.91" lengthAdjust="spacingAndGlyphs">27</text>
<g fill="#101010"><path d="M13.1 743.7H22.9V755.9H18.1V748.4H13.1Z"/><circle cx="26.9" cy="746.3" r="2.7"/><path d="M32.0 743.7H37.5L32.4 755.9H26.9Z"/></g>
<text x="41.54" y="755.90" font-size="15.8" fill="#101010" stroke="#101010" stroke-width="0.15" textLength="88.58" lengthAdjust="spacingAndGlyphs">TradingView</text>
</svg></body></html>
